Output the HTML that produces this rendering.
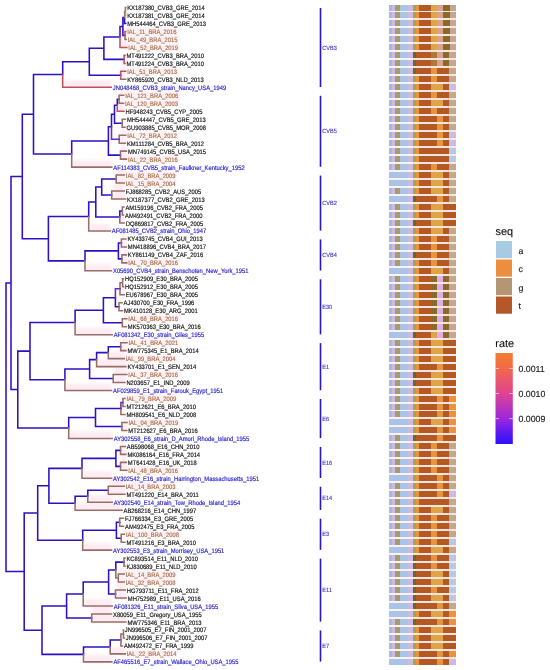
<!DOCTYPE html>
<html><head><meta charset="utf-8"><style>
html,body{margin:0;padding:0;background:#fff;}
body{width:550px;height:670px;overflow:hidden;position:relative;}
svg{position:absolute;left:0;top:0;will-change:transform;filter:blur(0.45px);}
text{-webkit-font-smoothing:antialiased;text-rendering:geometricPrecision;}
text{font-family:"Liberation Sans",sans-serif;}
</style></head><body>
<svg width="550" height="670" viewBox="0 0 550 670">
<g><defs><filter id="hz" x="-20%" y="-50%" width="140%" height="200%"><feGaussianBlur stdDeviation="1.5"/></filter></defs><g fill="#fdebf2" filter="url(#hz)"><rect x="121" y="40.4" width="5.8" height="7.5"/><rect x="121.7" y="64.34" width="4" height="7.5"/><rect x="121.7" y="72.32" width="4" height="7.5"/><rect x="63.7" y="80.3" width="47.6" height="7.5"/><rect x="120.1" y="88.28" width="3.6" height="7.5"/><rect x="120.1" y="96.26" width="3.4" height="7.5"/><rect x="118.3" y="104.24" width="5.7" height="7.5"/><rect x="120.2" y="128.18" width="5.5" height="7.5"/><rect x="120.2" y="136.16" width="5.2" height="7.5"/><rect x="121.5" y="144.14" width="4.9" height="7.5"/><rect x="121.5" y="152.12" width="4.9" height="7.5"/><rect x="72.7" y="160.1" width="39.1" height="7.5"/><rect x="117.2" y="168.08" width="7.1" height="7.5"/><rect x="117.2" y="176.06" width="7" height="7.5"/><rect x="112.7" y="184.04" width="11.5" height="7.5"/><rect x="112.7" y="192.02" width="12.9" height="7.5"/><rect x="120.8" y="215.96" width="3.4" height="7.5"/><rect x="89.7" y="223.94" width="20.6" height="7.5"/><rect x="122.4" y="231.92" width="3.5" height="7.5"/><rect x="122.4" y="239.9" width="3.9" height="7.5"/><rect x="122.9" y="247.88" width="3.4" height="7.5"/><rect x="122.9" y="255.86" width="3.9" height="7.5"/><rect x="86" y="263.84" width="25.5" height="7.5"/><rect x="121" y="287.78" width="3.2" height="7.5"/><rect x="123.3" y="311.72" width="3.5" height="7.5"/><rect x="76.1" y="327.68" width="36.1" height="7.5"/><rect x="121.7" y="335.66" width="5.3" height="7.5"/><rect x="121.7" y="343.64" width="4.2" height="7.5"/><rect x="109.3" y="351.62" width="14.9" height="7.5"/><rect x="97.6" y="359.6" width="28.3" height="7.5"/><rect x="114.2" y="367.58" width="12.6" height="7.5"/><rect x="114.2" y="375.56" width="10.7" height="7.5"/><rect x="65.9" y="383.54" width="45.6" height="7.5"/><rect x="122.9" y="415.46" width="4.1" height="7.5"/><rect x="122.9" y="423.44" width="3.9" height="7.5"/><rect x="69.7" y="431.42" width="42.5" height="7.5"/><rect x="121.5" y="439.4" width="3.8" height="7.5"/><rect x="121.5" y="447.38" width="4.4" height="7.5"/><rect x="121.5" y="455.36" width="4.8" height="7.5"/><rect x="121.5" y="463.34" width="5.3" height="7.5"/><rect x="83" y="471.32" width="28.5" height="7.5"/><rect x="109.3" y="479.3" width="14.9" height="7.5"/><rect x="109.3" y="487.28" width="15.6" height="7.5"/><rect x="88.8" y="495.26" width="23.4" height="7.5"/><rect x="76.1" y="503.24" width="46" height="7.5"/><rect x="83.7" y="543.14" width="27.8" height="7.5"/><rect x="119.3" y="567.08" width="4.9" height="7.5"/><rect x="119.3" y="575.06" width="4.9" height="7.5"/><rect x="116.5" y="583.04" width="8.8" height="7.5"/><rect x="116.5" y="591.02" width="9.8" height="7.5"/><rect x="84.2" y="599" width="28" height="7.5"/><rect x="92.7" y="606.98" width="18.8" height="7.5"/><rect x="92.7" y="614.96" width="33.2" height="7.5"/><rect x="111.2" y="646.88" width="14" height="7.5"/><rect x="84.5" y="654.86" width="27.4" height="7.5"/></g><g fill="#fdf0f5" filter="url(#hz)"><rect x="124.9" y="27.44" width="53.5" height="7"/><rect x="125.4" y="35.42" width="53.5" height="7"/><rect x="126" y="43.4" width="53.5" height="7"/><rect x="124.9" y="67.34" width="53.5" height="7"/><rect x="122.9" y="91.28" width="56.8" height="7"/><rect x="122.7" y="99.26" width="56.8" height="7"/><rect x="124.9" y="131.18" width="53.5" height="7"/><rect x="125.6" y="155.12" width="53.5" height="7"/><rect x="123.5" y="171.08" width="53.5" height="7"/><rect x="123.4" y="179.06" width="53.5" height="7"/><rect x="126" y="258.86" width="53.5" height="7"/><rect x="126" y="314.72" width="53.5" height="7"/><rect x="126.2" y="338.66" width="53.5" height="7"/><rect x="123.4" y="354.62" width="53.5" height="7"/><rect x="126" y="370.58" width="53.5" height="7"/><rect x="124.1" y="394.52" width="53.5" height="7"/><rect x="126.2" y="418.46" width="53.5" height="7"/><rect x="126" y="466.34" width="53.5" height="7"/><rect x="123.4" y="482.3" width="53.5" height="7"/><rect x="123.6" y="530.18" width="56.8" height="7"/><rect x="123.4" y="570.08" width="53.5" height="7"/><rect x="123.4" y="578.06" width="53.5" height="7"/><rect x="124.4" y="649.88" width="53.5" height="7"/></g><path d="M6 427.3L6 283M6 283L11 283M11 283L11 176.47M11 176.47L22.3 176.47M22.3 176.47L22.3 114.26M22.3 114.26L33.5 114.26M33.5 114.26L33.5 74.52M33.5 74.52L62.7 74.52M62.7 74.52L62.7 61.74M62.7 61.74L89.3 61.74M89.3 61.74L89.3 48.15M89.3 48.15L103.9 48.15M103.9 48.15L103.9 36.93M103.9 36.93L120 36.93M120 36.93L120 26.45M120 26.45L122.9 26.45M122.9 26.45L122.9 17.48M122.9 17.48L124.6 17.48M124.6 17.48L124.6 23.46M124.6 23.46L125.7 23.46M122.9 26.45L122.9 35.43M122.9 35.43L125 35.43M103.9 48.15L103.9 59.37M103.9 59.37L124.1 59.37M89.3 61.74L89.3 75.33M89.3 75.33L120.7 75.33M33.5 114.26L33.5 154.01M33.5 154.01L71.7 154.01M71.7 154.01L71.7 140.92M71.7 140.92L108.4 140.92M108.4 140.92L108.4 126.7M108.4 126.7L111.5 126.7M111.5 126.7L111.5 114.23M111.5 114.23L114.5 114.23M114.5 114.23L114.5 105.26M114.5 105.26L117.3 105.26M117.3 105.26L117.3 99.27M117.3 99.27L119.1 99.27M114.5 114.23L114.5 123.21M114.5 123.21L122.2 123.21M108.4 140.92L108.4 155.13M108.4 155.13L120.5 155.13M22.3 176.47L22.3 238.67M22.3 238.67L48.4 238.67M48.4 238.67L48.4 216.48M48.4 216.48L88.7 216.48M88.7 216.48L88.7 202.01M88.7 202.01L95.8 202.01M95.8 202.01L95.8 187.05M95.8 187.05L101.7 187.05M101.7 187.05L101.7 179.07M101.7 179.07L116.2 179.07M101.7 187.05L101.7 195.03M101.7 195.03L111.7 195.03M95.8 202.01L95.8 216.98M95.8 216.98L119.8 216.98M119.8 216.98L119.8 210.99M119.8 210.99L122.3 210.99M48.4 238.67L48.4 260.87M48.4 260.87L85 260.87M85 260.87L85 250.89M85 250.89L118.4 250.89M118.4 250.89L118.4 242.91M118.4 242.91L121.4 242.91M118.4 250.89L118.4 258.87M118.4 258.87L121.9 258.87M11 283L11 389.54M11 389.54L17.8 389.54M17.8 389.54L17.8 351.14M17.8 351.14L30 351.14M30 351.14L30 322.46M30 322.46L75.1 322.46M75.1 322.46L75.1 310.24M75.1 310.24L103.4 310.24M103.4 310.24L103.4 297.77M103.4 297.77L115.4 297.77M115.4 297.77L115.4 306.75M115.4 306.75L119 306.75M103.4 310.24L103.4 322.71M103.4 322.71L122.3 322.71M30 351.14L30 379.82M30 379.82L64.9 379.82M64.9 379.82L64.9 369.09M64.9 369.09L89.6 369.09M89.6 369.09L89.6 359.62M89.6 359.62L96.6 359.62M96.6 359.62L96.6 352.63M96.6 352.63L108.3 352.63M108.3 352.63L108.3 346.65M108.3 346.65L120.7 346.65M89.6 369.09L89.6 378.57M89.6 378.57L113.2 378.57M17.8 389.54L17.8 427.95M17.8 427.95L68.7 427.95M68.7 427.95L68.7 417.47M68.7 417.47L95.5 417.47M95.5 417.47L95.5 408.5M95.5 408.5L120.9 408.5M95.5 417.47L95.5 426.45M95.5 426.45L121.9 426.45M6 427.3L6 571.59M6 571.59L24.2 571.59M24.2 571.59L24.2 512.98M24.2 512.98L37.7 512.98M37.7 512.98L37.7 485.8M37.7 485.8L48.9 485.8M48.9 485.8L48.9 468.35M48.9 468.35L82 468.35M82 468.35L82 458.37M82 458.37L115.9 458.37M115.9 458.37L115.9 450.39M115.9 450.39L120.5 450.39M115.9 458.37L115.9 466.35M115.9 466.35L120.5 466.35M48.9 485.8L48.9 503.26M48.9 503.26L75.1 503.26M75.1 503.26L75.1 496.28M75.1 496.28L87.8 496.28M87.8 496.28L87.8 490.29M87.8 490.29L108.3 490.29M37.7 512.98L37.7 540.16M37.7 540.16L82.7 540.16M82.7 540.16L82.7 530.19M82.7 530.19L116.4 530.19M116.4 530.19L116.4 522.21M116.4 522.21L119.7 522.21M116.4 530.19L116.4 538.17M116.4 538.17L121.2 538.17M24.2 571.59L24.2 630.19M24.2 630.19L42 630.19M42 630.19L42 606M42 606L66.6 606M66.6 606L66.6 594.03M66.6 594.03L83.2 594.03M83.2 594.03L83.2 582.06M83.2 582.06L108.6 582.06M108.6 582.06L108.6 570.09M108.6 570.09L115.8 570.09M115.8 570.09L115.8 562.11M115.8 562.11L124 562.11M108.6 582.06L108.6 594.03M108.6 594.03L115.5 594.03M66.6 606L66.6 617.97M66.6 617.97L91.7 617.97M42 630.19L42 654.38M42 654.38L83.5 654.38M83.5 654.38L83.5 646.9M83.5 646.9L110.2 646.9M110.2 646.9L110.2 639.92M110.2 639.92L120.9 639.92" stroke="#2c12c4" stroke-width="1.55" fill="none" stroke-linecap="square"/><path d="M124.6 17.48L124.6 11.49M124.6 11.49L125.4 11.49M125.4 11.49L125.4 7.5M125.4 7.5L125.7 7.5M125 35.43L125 39.42M125 39.42L126.2 39.42M120.7 75.33L120.7 79.32M120.7 79.32L125.7 79.32M119.1 99.27L119.1 95.28M119.1 95.28L123.7 95.28M119.1 99.27L119.1 103.26M119.1 103.26L123.5 103.26M122.2 123.21L122.2 119.22M122.2 119.22L125.4 119.22M122.2 123.21L122.2 127.2M122.2 127.2L125 127.2M119.2 139.17L119.2 135.18M119.2 135.18L125.7 135.18M119.2 139.17L119.2 143.16M119.2 143.16L125.4 143.16M120.5 155.13L120.5 151.14M120.5 151.14L126.4 151.14M120.5 155.13L120.5 159.12M120.5 159.12L126.4 159.12M71.7 154.01L71.7 167.1M71.7 167.1L111.8 167.1M116.2 179.07L116.2 175.08M116.2 175.08L124.3 175.08M116.2 179.07L116.2 183.06M116.2 183.06L124.2 183.06M111.7 195.03L111.7 191.04M111.7 191.04L124.2 191.04M111.7 195.03L111.7 199.02M111.7 199.02L125.6 199.02M122.3 210.99L122.3 207M122.3 207L123.9 207M122.3 210.99L122.3 214.98M122.3 214.98L123.5 214.98M119.8 216.98L119.8 222.96M119.8 222.96L124.2 222.96M88.7 216.48L88.7 230.94M88.7 230.94L110.3 230.94M121.4 242.91L121.4 238.92M121.4 238.92L125.9 238.92M121.4 242.91L121.4 246.9M121.4 246.9L126.3 246.9M121.9 258.87L121.9 254.88M121.9 254.88L126.3 254.88M121.9 258.87L121.9 262.86M121.9 262.86L126.8 262.86M85 260.87L85 270.84M85 270.84L111.5 270.84M120 288.8L120 282.81M120 282.81L122.6 282.81M122.6 282.81L122.6 278.82M122.6 278.82L123.5 278.82M122.6 282.81L122.6 286.8M122.6 286.8L123.5 286.8M120 288.8L120 294.78M120 294.78L124.2 294.78M119 306.75L119 302.76M119 302.76L122.1 302.76M119 306.75L119 310.74M119 310.74L122.5 310.74M122.3 322.71L122.3 318.72M122.3 318.72L126.8 318.72M122.3 322.71L122.3 326.7M122.3 326.7L126.3 326.7M75.1 322.46L75.1 334.68M75.1 334.68L112.2 334.68M120.7 346.65L120.7 342.66M120.7 342.66L127 342.66M120.7 346.65L120.7 350.64M120.7 350.64L125.9 350.64M108.3 352.63L108.3 358.62M108.3 358.62L124.2 358.62M96.6 359.62L96.6 366.6M96.6 366.6L125.9 366.6M113.2 378.57L113.2 374.58M113.2 374.58L126.8 374.58M113.2 378.57L113.2 382.56M113.2 382.56L124.9 382.56M64.9 379.82L64.9 390.54M64.9 390.54L111.5 390.54M122.9 402.51L122.9 398.52M122.9 398.52L124.9 398.52M122.9 402.51L122.9 406.5M122.9 406.5L124.9 406.5M120.9 408.5L120.9 414.48M120.9 414.48L124.9 414.48M121.9 426.45L121.9 422.46M121.9 422.46L127 422.46M121.9 426.45L121.9 430.44M121.9 430.44L126.8 430.44M68.7 427.95L68.7 438.42M68.7 438.42L112.2 438.42M120.5 450.39L120.5 446.4M120.5 446.4L125.3 446.4M120.5 450.39L120.5 454.38M120.5 454.38L125.9 454.38M120.5 466.35L120.5 462.36M120.5 462.36L126.3 462.36M120.5 466.35L120.5 470.34M120.5 470.34L126.8 470.34M82 468.35L82 478.32M82 478.32L111.5 478.32M108.3 490.29L108.3 486.3M108.3 486.3L124.2 486.3M108.3 490.29L108.3 494.28M108.3 494.28L124.9 494.28M87.8 496.28L87.8 502.26M87.8 502.26L112.2 502.26M75.1 503.26L75.1 510.24M75.1 510.24L122.1 510.24M119.7 522.21L119.7 518.22M119.7 518.22L123.5 518.22M119.7 522.21L119.7 526.2M119.7 526.2L123.5 526.2M121.2 538.17L121.2 534.18M121.2 534.18L124.4 534.18M121.2 538.17L121.2 542.16M121.2 542.16L124.9 542.16M82.7 540.16L82.7 550.14M82.7 550.14L111.5 550.14M124 562.11L124 558.12M124 558.12L124.9 558.12M124 562.11L124 566.1M124 566.1L124.9 566.1M115.8 570.09L115.8 578.07M115.8 578.07L118.3 578.07M118.3 578.07L118.3 574.08M118.3 574.08L124.2 574.08M118.3 578.07L118.3 582.06M118.3 582.06L124.2 582.06M115.5 594.03L115.5 590.04M115.5 590.04L125.3 590.04M115.5 594.03L115.5 598.02M115.5 598.02L126.3 598.02M83.2 594.03L83.2 606M83.2 606L112.2 606M91.7 617.97L91.7 613.98M91.7 613.98L111.5 613.98M91.7 617.97L91.7 621.96M91.7 621.96L125.9 621.96M120.9 639.92L120.9 633.93M120.9 633.93L123.5 633.93M123.5 633.93L123.5 629.94M123.5 629.94L123.3 629.94M123.5 633.93L123.5 637.92M123.5 637.92L124.3 637.92M120.9 639.92L120.9 645.9M120.9 645.9L122.4 645.9M110.2 646.9L110.2 653.88M110.2 653.88L125.2 653.88M83.5 654.38L83.5 661.86M83.5 661.86L111.9 661.86" stroke="#9a6e68" stroke-width="1.55" fill="none" stroke-linecap="square"/><path d="M125.4 11.49L125.4 15.48M125.4 15.48L125.7 15.48" stroke="#b0a050" stroke-width="1.55" fill="none" stroke-linecap="square"/><path d="M125 35.43L125 31.44M125 31.44L125.7 31.44M120 36.93L120 47.4M120 47.4L126.8 47.4M124.1 59.37L124.1 55.38M124.1 55.38L125 55.38M124.1 59.37L124.1 63.36M124.1 63.36L125 63.36M120.7 75.33L120.7 71.34M120.7 71.34L125.7 71.34M62.7 74.52L62.7 87.3M62.7 87.3L111.3 87.3M117.3 105.26L117.3 111.24M117.3 111.24L124 111.24" stroke="#c0505e" stroke-width="1.55" fill="none" stroke-linecap="square"/><path d="M111.5 126.7L111.5 139.17M111.5 139.17L119.2 139.17M115.4 297.77L115.4 288.8M115.4 288.8L120 288.8M120.9 408.5L120.9 402.51M120.9 402.51L122.9 402.51" stroke="#6a2cc4" stroke-width="1.55" fill="none" stroke-linecap="square"/></g>
<g shape-rendering="crispEdges"><rect x="388.6" y="4.5" width="24.4" height="660.36" fill="#f7f3fa"/><rect x="413" y="4.5" width="42.8" height="660.36" fill="#fde3dd"/><rect x="388.6" y="4.5" width="3.65" height="6" fill="#aab8e0"/><rect x="392.2" y="4.5" width="2.35" height="6" fill="#cdb8e6"/><rect x="394.5" y="4.5" width="5.65" height="6" fill="#a49c6c"/><rect x="400.1" y="4.5" width="7.55" height="6" fill="#aac4e8"/><rect x="407.6" y="4.5" width="5.45" height="6" fill="#cdb8e6"/><rect x="413" y="4.5" width="3.05" height="6" fill="#a0a84e"/><rect x="416" y="4.5" width="2.55" height="6" fill="#e8943c"/><rect x="418.5" y="4.5" width="12.55" height="6" fill="#b35a24"/><rect x="431" y="4.5" width="6.05" height="6" fill="#dea446"/><rect x="437" y="4.5" width="6.05" height="6" fill="#d6a48c"/><rect x="443" y="4.5" width="7.05" height="6" fill="#8a6a2a"/><rect x="450" y="4.5" width="5.85" height="6" fill="#c2a88c"/><rect x="388.6" y="12.48" width="3.65" height="6" fill="#aab8e0"/><rect x="392.2" y="12.48" width="2.35" height="6" fill="#cdb8e6"/><rect x="394.5" y="12.48" width="5.65" height="6" fill="#a49c6c"/><rect x="400.1" y="12.48" width="7.55" height="6" fill="#aac4e8"/><rect x="407.6" y="12.48" width="5.45" height="6" fill="#cdb8e6"/><rect x="413" y="12.48" width="3.05" height="6" fill="#a0a84e"/><rect x="416" y="12.48" width="2.55" height="6" fill="#e8943c"/><rect x="418.5" y="12.48" width="12.55" height="6" fill="#b35a24"/><rect x="431" y="12.48" width="6.05" height="6" fill="#dea446"/><rect x="437" y="12.48" width="6.05" height="6" fill="#d6a48c"/><rect x="443" y="12.48" width="7.05" height="6" fill="#8a6a2a"/><rect x="450" y="12.48" width="5.85" height="6" fill="#c2a88c"/><rect x="388.6" y="20.46" width="3.65" height="6" fill="#aab8e0"/><rect x="392.2" y="20.46" width="2.35" height="6" fill="#cdb8e6"/><rect x="394.5" y="20.46" width="5.65" height="6" fill="#a49c6c"/><rect x="400.1" y="20.46" width="7.55" height="6" fill="#aac4e8"/><rect x="407.6" y="20.46" width="5.45" height="6" fill="#cdb8e6"/><rect x="413" y="20.46" width="3.05" height="6" fill="#a0a84e"/><rect x="416" y="20.46" width="2.55" height="6" fill="#e8943c"/><rect x="418.5" y="20.46" width="12.55" height="6" fill="#b35a24"/><rect x="431" y="20.46" width="6.05" height="6" fill="#dea446"/><rect x="437" y="20.46" width="6.05" height="6" fill="#d6a48c"/><rect x="443" y="20.46" width="7.05" height="6" fill="#8a6a2a"/><rect x="450" y="20.46" width="5.85" height="6" fill="#c2a88c"/><rect x="388.6" y="28.44" width="3.65" height="6" fill="#aab8e0"/><rect x="392.2" y="28.44" width="2.35" height="6" fill="#cdb8e6"/><rect x="394.5" y="28.44" width="5.65" height="6" fill="#a49c6c"/><rect x="400.1" y="28.44" width="7.55" height="6" fill="#aac4e8"/><rect x="407.6" y="28.44" width="5.45" height="6" fill="#cdb8e6"/><rect x="413" y="28.44" width="3.05" height="6" fill="#a0a84e"/><rect x="416" y="28.44" width="2.55" height="6" fill="#e8943c"/><rect x="418.5" y="28.44" width="12.55" height="6" fill="#b35a24"/><rect x="431" y="28.44" width="6.05" height="6" fill="#dea446"/><rect x="437" y="28.44" width="6.05" height="6" fill="#d6a48c"/><rect x="443" y="28.44" width="7.05" height="6" fill="#8a6a2a"/><rect x="450" y="28.44" width="5.85" height="6" fill="#c2a88c"/><rect x="388.6" y="36.42" width="3.65" height="6" fill="#aab8e0"/><rect x="392.2" y="36.42" width="2.35" height="6" fill="#cdb8e6"/><rect x="394.5" y="36.42" width="5.65" height="6" fill="#a49c6c"/><rect x="400.1" y="36.42" width="7.55" height="6" fill="#aac4e8"/><rect x="407.6" y="36.42" width="5.45" height="6" fill="#cdb8e6"/><rect x="413" y="36.42" width="3.05" height="6" fill="#a0a84e"/><rect x="416" y="36.42" width="2.55" height="6" fill="#e8943c"/><rect x="418.5" y="36.42" width="12.55" height="6" fill="#b35a24"/><rect x="431" y="36.42" width="6.05" height="6" fill="#dea446"/><rect x="437" y="36.42" width="6.05" height="6" fill="#d6a48c"/><rect x="443" y="36.42" width="7.05" height="6" fill="#8a6a2a"/><rect x="450" y="36.42" width="5.85" height="6" fill="#c2a88c"/><rect x="388.6" y="44.4" width="3.65" height="6" fill="#aab8e0"/><rect x="392.2" y="44.4" width="2.35" height="6" fill="#cdb8e6"/><rect x="394.5" y="44.4" width="5.65" height="6" fill="#a49c6c"/><rect x="400.1" y="44.4" width="7.55" height="6" fill="#aac4e8"/><rect x="407.6" y="44.4" width="5.45" height="6" fill="#cdb8e6"/><rect x="413" y="44.4" width="3.05" height="6" fill="#a0a84e"/><rect x="416" y="44.4" width="2.55" height="6" fill="#e8943c"/><rect x="418.5" y="44.4" width="12.55" height="6" fill="#b35a24"/><rect x="431" y="44.4" width="6.05" height="6" fill="#dea446"/><rect x="437" y="44.4" width="6.05" height="6" fill="#d6a48c"/><rect x="443" y="44.4" width="7.05" height="6" fill="#8a6a2a"/><rect x="450" y="44.4" width="5.85" height="6" fill="#c2a88c"/><rect x="388.6" y="52.38" width="3.65" height="6" fill="#aab8e0"/><rect x="392.2" y="52.38" width="2.35" height="6" fill="#cdb8e6"/><rect x="394.5" y="52.38" width="5.65" height="6" fill="#a49c6c"/><rect x="400.1" y="52.38" width="7.55" height="6" fill="#aac4e8"/><rect x="407.6" y="52.38" width="5.45" height="6" fill="#cdb8e6"/><rect x="413" y="52.38" width="3.05" height="6" fill="#686a28"/><rect x="416" y="52.38" width="2.55" height="6" fill="#b35a24"/><rect x="418.5" y="52.38" width="12.55" height="6" fill="#b35a24"/><rect x="431" y="52.38" width="6.05" height="6" fill="#b07838"/><rect x="437" y="52.38" width="6.05" height="6" fill="#d6a48c"/><rect x="443" y="52.38" width="6.05" height="6" fill="#8a6a2a"/><rect x="449" y="52.38" width="6.85" height="6" fill="#c2a88c"/><rect x="388.6" y="60.36" width="3.65" height="6" fill="#aab8e0"/><rect x="392.2" y="60.36" width="2.35" height="6" fill="#cdb8e6"/><rect x="394.5" y="60.36" width="5.65" height="6" fill="#a49c6c"/><rect x="400.1" y="60.36" width="7.55" height="6" fill="#aac4e8"/><rect x="407.6" y="60.36" width="5.45" height="6" fill="#cdb8e6"/><rect x="413" y="60.36" width="3.05" height="6" fill="#686a28"/><rect x="416" y="60.36" width="2.55" height="6" fill="#b35a24"/><rect x="418.5" y="60.36" width="12.55" height="6" fill="#b35a24"/><rect x="431" y="60.36" width="6.05" height="6" fill="#b07838"/><rect x="437" y="60.36" width="6.05" height="6" fill="#d6a48c"/><rect x="443" y="60.36" width="6.05" height="6" fill="#8a6a2a"/><rect x="449" y="60.36" width="6.85" height="6" fill="#c2a88c"/><rect x="388.6" y="68.34" width="3.65" height="6" fill="#aab8e0"/><rect x="392.2" y="68.34" width="2.35" height="6" fill="#cdb8e6"/><rect x="394.5" y="68.34" width="5.65" height="6" fill="#a49c6c"/><rect x="400.1" y="68.34" width="7.55" height="6" fill="#aac4e8"/><rect x="407.6" y="68.34" width="5.45" height="6" fill="#cdb8e6"/><rect x="413" y="68.34" width="3.05" height="6" fill="#686a28"/><rect x="416" y="68.34" width="2.55" height="6" fill="#b35a24"/><rect x="418.5" y="68.34" width="12.55" height="6" fill="#b35a24"/><rect x="431" y="68.34" width="6.05" height="6" fill="#e8943c"/><rect x="437" y="68.34" width="6.05" height="6" fill="#b35a24"/><rect x="443" y="68.34" width="6.05" height="6" fill="#b35a24"/><rect x="449" y="68.34" width="6.85" height="6" fill="#c2a88c"/><rect x="388.6" y="76.32" width="3.65" height="6" fill="#aab8e0"/><rect x="392.2" y="76.32" width="2.35" height="6" fill="#cdb8e6"/><rect x="394.5" y="76.32" width="5.65" height="6" fill="#a49c6c"/><rect x="400.1" y="76.32" width="7.55" height="6" fill="#aac4e8"/><rect x="407.6" y="76.32" width="5.45" height="6" fill="#cdb8e6"/><rect x="413" y="76.32" width="3.05" height="6" fill="#a0a84e"/><rect x="416" y="76.32" width="2.55" height="6" fill="#e8943c"/><rect x="418.5" y="76.32" width="12.55" height="6" fill="#b35a24"/><rect x="431" y="76.32" width="6.05" height="6" fill="#e8943c"/><rect x="437" y="76.32" width="6.05" height="6" fill="#b35a24"/><rect x="443" y="76.32" width="6.05" height="6" fill="#b35a24"/><rect x="449" y="76.32" width="6.85" height="6" fill="#c2a88c"/><rect x="388.6" y="84.3" width="3.65" height="6" fill="#aab8e0"/><rect x="392.2" y="84.3" width="2.35" height="6" fill="#cdb8e6"/><rect x="394.5" y="84.3" width="5.65" height="6" fill="#a49c6c"/><rect x="400.1" y="84.3" width="7.55" height="6" fill="#aac4e8"/><rect x="407.6" y="84.3" width="5.45" height="6" fill="#cdb8e6"/><rect x="413" y="84.3" width="3.05" height="6" fill="#a0a84e"/><rect x="416" y="84.3" width="2.55" height="6" fill="#e8943c"/><rect x="418.5" y="84.3" width="12.55" height="6" fill="#b35a24"/><rect x="431" y="84.3" width="6.05" height="6" fill="#dea446"/><rect x="437" y="84.3" width="6.05" height="6" fill="#dea446"/><rect x="443" y="84.3" width="6.05" height="6" fill="#b35a24"/><rect x="449" y="84.3" width="6.85" height="6" fill="#cabbe8"/><rect x="388.6" y="92.28" width="3.65" height="6" fill="#aab8e0"/><rect x="392.2" y="92.28" width="2.35" height="6" fill="#cdb8e6"/><rect x="394.5" y="92.28" width="5.65" height="6" fill="#a49c6c"/><rect x="400.1" y="92.28" width="7.55" height="6" fill="#aac4e8"/><rect x="407.6" y="92.28" width="5.45" height="6" fill="#cdb8e6"/><rect x="413" y="92.28" width="3.05" height="6" fill="#a0a84e"/><rect x="416" y="92.28" width="2.55" height="6" fill="#e8943c"/><rect x="418.5" y="92.28" width="12.55" height="6" fill="#b35a24"/><rect x="431" y="92.28" width="6.05" height="6" fill="#e8943c"/><rect x="437" y="92.28" width="6.05" height="6" fill="#b35a24"/><rect x="443" y="92.28" width="6.05" height="6" fill="#b35a24"/><rect x="449" y="92.28" width="6.85" height="6" fill="#c2a88c"/><rect x="388.6" y="100.26" width="3.65" height="6" fill="#aab8e0"/><rect x="392.2" y="100.26" width="2.35" height="6" fill="#cdb8e6"/><rect x="394.5" y="100.26" width="5.65" height="6" fill="#a49c6c"/><rect x="400.1" y="100.26" width="7.55" height="6" fill="#aac4e8"/><rect x="407.6" y="100.26" width="5.45" height="6" fill="#cdb8e6"/><rect x="413" y="100.26" width="3.05" height="6" fill="#a0a84e"/><rect x="416" y="100.26" width="2.55" height="6" fill="#e8943c"/><rect x="418.5" y="100.26" width="12.55" height="6" fill="#b35a24"/><rect x="431" y="100.26" width="6.05" height="6" fill="#dea446"/><rect x="437" y="100.26" width="6.05" height="6" fill="#dea446"/><rect x="443" y="100.26" width="6.05" height="6" fill="#b35a24"/><rect x="449" y="100.26" width="6.85" height="6" fill="#c2a88c"/><rect x="388.6" y="108.24" width="3.65" height="6" fill="#aab8e0"/><rect x="392.2" y="108.24" width="2.35" height="6" fill="#cdb8e6"/><rect x="394.5" y="108.24" width="5.65" height="6" fill="#a49c6c"/><rect x="400.1" y="108.24" width="7.55" height="6" fill="#aac4e8"/><rect x="407.6" y="108.24" width="5.45" height="6" fill="#cdb8e6"/><rect x="413" y="108.24" width="3.05" height="6" fill="#a0a84e"/><rect x="416" y="108.24" width="2.55" height="6" fill="#e8943c"/><rect x="418.5" y="108.24" width="12.55" height="6" fill="#b35a24"/><rect x="431" y="108.24" width="6.05" height="6" fill="#e8943c"/><rect x="437" y="108.24" width="6.05" height="6" fill="#b35a24"/><rect x="443" y="108.24" width="6.05" height="6" fill="#b35a24"/><rect x="449" y="108.24" width="6.85" height="6" fill="#c2a88c"/><rect x="388.6" y="116.22" width="3.65" height="6" fill="#aab8e0"/><rect x="392.2" y="116.22" width="2.35" height="6" fill="#cdb8e6"/><rect x="394.5" y="116.22" width="5.65" height="6" fill="#a49c6c"/><rect x="400.1" y="116.22" width="7.55" height="6" fill="#aac4e8"/><rect x="407.6" y="116.22" width="5.45" height="6" fill="#cdb8e6"/><rect x="413" y="116.22" width="3.05" height="6" fill="#a0a84e"/><rect x="416" y="116.22" width="2.55" height="6" fill="#e8943c"/><rect x="418.5" y="116.22" width="12.55" height="6" fill="#b35a24"/><rect x="431" y="116.22" width="6.05" height="6" fill="#b35a24"/><rect x="437" y="116.22" width="6.05" height="6" fill="#e8943c"/><rect x="443" y="116.22" width="6.05" height="6" fill="#b35a24"/><rect x="449" y="116.22" width="6.85" height="6" fill="#c2a88c"/><rect x="388.6" y="124.2" width="3.65" height="6" fill="#aab8e0"/><rect x="392.2" y="124.2" width="2.35" height="6" fill="#cdb8e6"/><rect x="394.5" y="124.2" width="5.65" height="6" fill="#a49c6c"/><rect x="400.1" y="124.2" width="7.55" height="6" fill="#aac4e8"/><rect x="407.6" y="124.2" width="5.45" height="6" fill="#cdb8e6"/><rect x="413" y="124.2" width="3.05" height="6" fill="#a0a84e"/><rect x="416" y="124.2" width="2.55" height="6" fill="#e8943c"/><rect x="418.5" y="124.2" width="12.55" height="6" fill="#b35a24"/><rect x="431" y="124.2" width="6.05" height="6" fill="#b35a24"/><rect x="437" y="124.2" width="6.05" height="6" fill="#e8943c"/><rect x="443" y="124.2" width="6.05" height="6" fill="#b35a24"/><rect x="449" y="124.2" width="6.85" height="6" fill="#c2a88c"/><rect x="388.6" y="132.18" width="3.65" height="6" fill="#aab8e0"/><rect x="392.2" y="132.18" width="2.35" height="6" fill="#cdb8e6"/><rect x="394.5" y="132.18" width="5.65" height="6" fill="#a49c6c"/><rect x="400.1" y="132.18" width="7.55" height="6" fill="#aac4e8"/><rect x="407.6" y="132.18" width="5.45" height="6" fill="#cdb8e6"/><rect x="413" y="132.18" width="3.05" height="6" fill="#a0a84e"/><rect x="416" y="132.18" width="2.55" height="6" fill="#e8943c"/><rect x="418.5" y="132.18" width="12.55" height="6" fill="#b35a24"/><rect x="431" y="132.18" width="6.05" height="6" fill="#b35a24"/><rect x="437" y="132.18" width="6.05" height="6" fill="#e8943c"/><rect x="443" y="132.18" width="6.05" height="6" fill="#b35a24"/><rect x="449" y="132.18" width="6.85" height="6" fill="#cabbe8"/><rect x="388.6" y="140.16" width="3.65" height="6" fill="#aab8e0"/><rect x="392.2" y="140.16" width="2.35" height="6" fill="#cdb8e6"/><rect x="394.5" y="140.16" width="5.65" height="6" fill="#a49c6c"/><rect x="400.1" y="140.16" width="7.55" height="6" fill="#aac4e8"/><rect x="407.6" y="140.16" width="5.45" height="6" fill="#cdb8e6"/><rect x="413" y="140.16" width="3.05" height="6" fill="#a0a84e"/><rect x="416" y="140.16" width="2.55" height="6" fill="#e8943c"/><rect x="418.5" y="140.16" width="12.55" height="6" fill="#b35a24"/><rect x="431" y="140.16" width="6.05" height="6" fill="#b35a24"/><rect x="437" y="140.16" width="6.05" height="6" fill="#e8943c"/><rect x="443" y="140.16" width="6.05" height="6" fill="#b35a24"/><rect x="449" y="140.16" width="6.85" height="6" fill="#cabbe8"/><rect x="388.6" y="148.14" width="3.65" height="6" fill="#aab8e0"/><rect x="392.2" y="148.14" width="2.35" height="6" fill="#cdb8e6"/><rect x="394.5" y="148.14" width="5.65" height="6" fill="#a49c6c"/><rect x="400.1" y="148.14" width="7.55" height="6" fill="#aac4e8"/><rect x="407.6" y="148.14" width="5.45" height="6" fill="#cdb8e6"/><rect x="413" y="148.14" width="3.05" height="6" fill="#a0a84e"/><rect x="416" y="148.14" width="2.55" height="6" fill="#e8943c"/><rect x="418.5" y="148.14" width="12.55" height="6" fill="#b35a24"/><rect x="431" y="148.14" width="6.05" height="6" fill="#b35a24"/><rect x="437" y="148.14" width="6.05" height="6" fill="#b35a24"/><rect x="443" y="148.14" width="6.05" height="6" fill="#b35a24"/><rect x="449" y="148.14" width="6.85" height="6" fill="#b2c8ec"/><rect x="388.6" y="156.12" width="3.65" height="6" fill="#aab8e0"/><rect x="392.2" y="156.12" width="2.35" height="6" fill="#cdb8e6"/><rect x="394.5" y="156.12" width="5.65" height="6" fill="#a49c6c"/><rect x="400.1" y="156.12" width="7.55" height="6" fill="#aac4e8"/><rect x="407.6" y="156.12" width="5.45" height="6" fill="#cdb8e6"/><rect x="413" y="156.12" width="3.05" height="6" fill="#a0a84e"/><rect x="416" y="156.12" width="2.55" height="6" fill="#e8943c"/><rect x="418.5" y="156.12" width="12.55" height="6" fill="#b35a24"/><rect x="431" y="156.12" width="6.05" height="6" fill="#b35a24"/><rect x="437" y="156.12" width="6.05" height="6" fill="#b35a24"/><rect x="443" y="156.12" width="6.05" height="6" fill="#b35a24"/><rect x="449" y="156.12" width="6.85" height="6" fill="#b2c8ec"/><rect x="388.6" y="164.1" width="3.65" height="6" fill="#aab8e0"/><rect x="392.2" y="164.1" width="2.35" height="6" fill="#cdb8e6"/><rect x="394.5" y="164.1" width="5.65" height="6" fill="#a49c6c"/><rect x="400.1" y="164.1" width="7.55" height="6" fill="#aac4e8"/><rect x="407.6" y="164.1" width="5.45" height="6" fill="#cdb8e6"/><rect x="413" y="164.1" width="3.05" height="6" fill="#a0a84e"/><rect x="416" y="164.1" width="2.55" height="6" fill="#e8943c"/><rect x="418.5" y="164.1" width="12.55" height="6" fill="#b35a24"/><rect x="431" y="164.1" width="6.05" height="6" fill="#e8943c"/><rect x="437" y="164.1" width="6.05" height="6" fill="#b35a24"/><rect x="443" y="164.1" width="6.05" height="6" fill="#b35a24"/><rect x="449" y="164.1" width="6.85" height="6" fill="#c2a88c"/><rect x="388.6" y="172.08" width="3.65" height="6" fill="#aac4e8"/><rect x="392.2" y="172.08" width="2.35" height="6" fill="#aac4e8"/><rect x="394.5" y="172.08" width="5.65" height="6" fill="#aac4e8"/><rect x="400.1" y="172.08" width="7.55" height="6" fill="#aac4e8"/><rect x="407.6" y="172.08" width="5.45" height="6" fill="#cdb8e6"/><rect x="413" y="172.08" width="3.05" height="6" fill="#a0a84e"/><rect x="416" y="172.08" width="2.55" height="6" fill="#e8943c"/><rect x="418.5" y="172.08" width="12.55" height="6" fill="#b35a24"/><rect x="431" y="172.08" width="6.05" height="6" fill="#dea446"/><rect x="437" y="172.08" width="6.05" height="6" fill="#dea446"/><rect x="443" y="172.08" width="6.05" height="6" fill="#b35a24"/><rect x="449" y="172.08" width="6.85" height="6" fill="#c2a88c"/><rect x="388.6" y="180.06" width="3.65" height="6" fill="#aac4e8"/><rect x="392.2" y="180.06" width="2.35" height="6" fill="#aac4e8"/><rect x="394.5" y="180.06" width="5.65" height="6" fill="#aac4e8"/><rect x="400.1" y="180.06" width="7.55" height="6" fill="#aac4e8"/><rect x="407.6" y="180.06" width="5.45" height="6" fill="#cdb8e6"/><rect x="413" y="180.06" width="3.05" height="6" fill="#a0a84e"/><rect x="416" y="180.06" width="2.55" height="6" fill="#e8943c"/><rect x="418.5" y="180.06" width="12.55" height="6" fill="#b35a24"/><rect x="431" y="180.06" width="6.05" height="6" fill="#dea446"/><rect x="437" y="180.06" width="6.05" height="6" fill="#dea446"/><rect x="443" y="180.06" width="6.05" height="6" fill="#b35a24"/><rect x="449" y="180.06" width="6.85" height="6" fill="#c2a88c"/><rect x="388.6" y="188.04" width="3.65" height="6" fill="#aab8e0"/><rect x="392.2" y="188.04" width="2.35" height="6" fill="#cdb8e6"/><rect x="394.5" y="188.04" width="5.65" height="6" fill="#a49c6c"/><rect x="400.1" y="188.04" width="7.55" height="6" fill="#aac4e8"/><rect x="407.6" y="188.04" width="5.45" height="6" fill="#cdb8e6"/><rect x="413" y="188.04" width="3.05" height="6" fill="#a0a84e"/><rect x="416" y="188.04" width="2.55" height="6" fill="#e8943c"/><rect x="418.5" y="188.04" width="12.55" height="6" fill="#b35a24"/><rect x="431" y="188.04" width="6.05" height="6" fill="#dea446"/><rect x="437" y="188.04" width="6.05" height="6" fill="#dea446"/><rect x="443" y="188.04" width="6.05" height="6" fill="#b35a24"/><rect x="449" y="188.04" width="6.85" height="6" fill="#c2a88c"/><rect x="388.6" y="196.02" width="3.65" height="6" fill="#aac4e8"/><rect x="392.2" y="196.02" width="2.35" height="6" fill="#aac4e8"/><rect x="394.5" y="196.02" width="5.65" height="6" fill="#aac4e8"/><rect x="400.1" y="196.02" width="7.55" height="6" fill="#aac4e8"/><rect x="407.6" y="196.02" width="5.45" height="6" fill="#cdb8e6"/><rect x="413" y="196.02" width="3.05" height="6" fill="#686a28"/><rect x="416" y="196.02" width="2.55" height="6" fill="#b35a24"/><rect x="418.5" y="196.02" width="12.55" height="6" fill="#b35a24"/><rect x="431" y="196.02" width="6.05" height="6" fill="#b35a24"/><rect x="437" y="196.02" width="6.05" height="6" fill="#e8943c"/><rect x="443" y="196.02" width="6.05" height="6" fill="#b35a24"/><rect x="449" y="196.02" width="6.85" height="6" fill="#c2a88c"/><rect x="388.6" y="204" width="3.65" height="6" fill="#aab8e0"/><rect x="392.2" y="204" width="2.35" height="6" fill="#cdb8e6"/><rect x="394.5" y="204" width="5.65" height="6" fill="#a49c6c"/><rect x="400.1" y="204" width="7.55" height="6" fill="#aac4e8"/><rect x="407.6" y="204" width="5.45" height="6" fill="#cdb8e6"/><rect x="413" y="204" width="3.05" height="6" fill="#a0a84e"/><rect x="416" y="204" width="2.55" height="6" fill="#e8943c"/><rect x="418.5" y="204" width="12.55" height="6" fill="#b35a24"/><rect x="431" y="204" width="6.05" height="6" fill="#dea446"/><rect x="437" y="204" width="6.05" height="6" fill="#dea446"/><rect x="443" y="204" width="6.05" height="6" fill="#b35a24"/><rect x="449" y="204" width="6.85" height="6" fill="#b35a24"/><rect x="388.6" y="211.98" width="3.65" height="6" fill="#aab8e0"/><rect x="392.2" y="211.98" width="2.35" height="6" fill="#cdb8e6"/><rect x="394.5" y="211.98" width="5.65" height="6" fill="#a49c6c"/><rect x="400.1" y="211.98" width="7.55" height="6" fill="#aac4e8"/><rect x="407.6" y="211.98" width="5.45" height="6" fill="#cdb8e6"/><rect x="413" y="211.98" width="3.05" height="6" fill="#a0a84e"/><rect x="416" y="211.98" width="2.55" height="6" fill="#e8943c"/><rect x="418.5" y="211.98" width="12.55" height="6" fill="#b35a24"/><rect x="431" y="211.98" width="6.05" height="6" fill="#dea446"/><rect x="437" y="211.98" width="6.05" height="6" fill="#dea446"/><rect x="443" y="211.98" width="6.05" height="6" fill="#b35a24"/><rect x="449" y="211.98" width="6.85" height="6" fill="#b35a24"/><rect x="388.6" y="219.96" width="3.65" height="6" fill="#aab8e0"/><rect x="392.2" y="219.96" width="2.35" height="6" fill="#cdb8e6"/><rect x="394.5" y="219.96" width="5.65" height="6" fill="#a49c6c"/><rect x="400.1" y="219.96" width="7.55" height="6" fill="#aac4e8"/><rect x="407.6" y="219.96" width="5.45" height="6" fill="#cdb8e6"/><rect x="413" y="219.96" width="3.05" height="6" fill="#686a28"/><rect x="416" y="219.96" width="2.55" height="6" fill="#b35a24"/><rect x="418.5" y="219.96" width="12.55" height="6" fill="#b35a24"/><rect x="431" y="219.96" width="6.05" height="6" fill="#dea446"/><rect x="437" y="219.96" width="6.05" height="6" fill="#dea446"/><rect x="443" y="219.96" width="6.05" height="6" fill="#b35a24"/><rect x="449" y="219.96" width="6.85" height="6" fill="#b35a24"/><rect x="388.6" y="227.94" width="3.65" height="6" fill="#aab8e0"/><rect x="392.2" y="227.94" width="2.35" height="6" fill="#cdb8e6"/><rect x="394.5" y="227.94" width="5.65" height="6" fill="#a49c6c"/><rect x="400.1" y="227.94" width="7.55" height="6" fill="#aac4e8"/><rect x="407.6" y="227.94" width="5.45" height="6" fill="#cdb8e6"/><rect x="413" y="227.94" width="3.05" height="6" fill="#a0a84e"/><rect x="416" y="227.94" width="2.55" height="6" fill="#e8943c"/><rect x="418.5" y="227.94" width="12.55" height="6" fill="#b35a24"/><rect x="431" y="227.94" width="6.05" height="6" fill="#dea446"/><rect x="437" y="227.94" width="6.05" height="6" fill="#dea446"/><rect x="443" y="227.94" width="6.05" height="6" fill="#b35a24"/><rect x="449" y="227.94" width="6.85" height="6" fill="#c2a88c"/><rect x="388.6" y="235.92" width="3.65" height="6" fill="#aab8e0"/><rect x="392.2" y="235.92" width="2.35" height="6" fill="#cdb8e6"/><rect x="394.5" y="235.92" width="5.65" height="6" fill="#a49c6c"/><rect x="400.1" y="235.92" width="7.55" height="6" fill="#aac4e8"/><rect x="407.6" y="235.92" width="5.45" height="6" fill="#cdb8e6"/><rect x="413" y="235.92" width="3.05" height="6" fill="#a0a84e"/><rect x="416" y="235.92" width="2.55" height="6" fill="#e8943c"/><rect x="418.5" y="235.92" width="12.55" height="6" fill="#b35a24"/><rect x="431" y="235.92" width="6.05" height="6" fill="#e8943c"/><rect x="437" y="235.92" width="6.05" height="6" fill="#b35a24"/><rect x="443" y="235.92" width="6.05" height="6" fill="#b35a24"/><rect x="449" y="235.92" width="6.85" height="6" fill="#c2a88c"/><rect x="388.6" y="243.9" width="3.65" height="6" fill="#aab8e0"/><rect x="392.2" y="243.9" width="2.35" height="6" fill="#cdb8e6"/><rect x="394.5" y="243.9" width="5.65" height="6" fill="#a49c6c"/><rect x="400.1" y="243.9" width="7.55" height="6" fill="#aac4e8"/><rect x="407.6" y="243.9" width="5.45" height="6" fill="#cdb8e6"/><rect x="413" y="243.9" width="3.05" height="6" fill="#a0a84e"/><rect x="416" y="243.9" width="2.55" height="6" fill="#e8943c"/><rect x="418.5" y="243.9" width="12.55" height="6" fill="#b35a24"/><rect x="431" y="243.9" width="6.05" height="6" fill="#e8943c"/><rect x="437" y="243.9" width="6.05" height="6" fill="#b35a24"/><rect x="443" y="243.9" width="6.05" height="6" fill="#b35a24"/><rect x="449" y="243.9" width="6.85" height="6" fill="#c2a88c"/><rect x="388.6" y="251.88" width="3.65" height="6" fill="#aab8e0"/><rect x="392.2" y="251.88" width="2.35" height="6" fill="#cdb8e6"/><rect x="394.5" y="251.88" width="5.65" height="6" fill="#a49c6c"/><rect x="400.1" y="251.88" width="7.55" height="6" fill="#aac4e8"/><rect x="407.6" y="251.88" width="5.45" height="6" fill="#cdb8e6"/><rect x="413" y="251.88" width="3.05" height="6" fill="#686a28"/><rect x="416" y="251.88" width="2.55" height="6" fill="#b35a24"/><rect x="418.5" y="251.88" width="12.55" height="6" fill="#b35a24"/><rect x="431" y="251.88" width="6.05" height="6" fill="#e8943c"/><rect x="437" y="251.88" width="6.05" height="6" fill="#b35a24"/><rect x="443" y="251.88" width="6.05" height="6" fill="#b35a24"/><rect x="449" y="251.88" width="6.85" height="6" fill="#c2a88c"/><rect x="388.6" y="259.86" width="3.65" height="6" fill="#aab8e0"/><rect x="392.2" y="259.86" width="2.35" height="6" fill="#cdb8e6"/><rect x="394.5" y="259.86" width="5.65" height="6" fill="#a49c6c"/><rect x="400.1" y="259.86" width="7.55" height="6" fill="#aac4e8"/><rect x="407.6" y="259.86" width="5.45" height="6" fill="#cdb8e6"/><rect x="413" y="259.86" width="3.05" height="6" fill="#a0a84e"/><rect x="416" y="259.86" width="2.55" height="6" fill="#e8943c"/><rect x="418.5" y="259.86" width="12.55" height="6" fill="#b35a24"/><rect x="431" y="259.86" width="6.05" height="6" fill="#e8943c"/><rect x="437" y="259.86" width="6.05" height="6" fill="#b35a24"/><rect x="443" y="259.86" width="6.05" height="6" fill="#b35a24"/><rect x="449" y="259.86" width="6.85" height="6" fill="#c2a88c"/><rect x="388.6" y="267.84" width="3.65" height="6" fill="#aac4e8"/><rect x="392.2" y="267.84" width="2.35" height="6" fill="#aac4e8"/><rect x="394.5" y="267.84" width="5.65" height="6" fill="#aac4e8"/><rect x="400.1" y="267.84" width="7.55" height="6" fill="#aac4e8"/><rect x="407.6" y="267.84" width="5.45" height="6" fill="#cdb8e6"/><rect x="413" y="267.84" width="3.05" height="6" fill="#a0a84e"/><rect x="416" y="267.84" width="2.55" height="6" fill="#e8943c"/><rect x="418.5" y="267.84" width="12.55" height="6" fill="#b35a24"/><rect x="431" y="267.84" width="6.05" height="6" fill="#dea446"/><rect x="437" y="267.84" width="6.05" height="6" fill="#dea446"/><rect x="443" y="267.84" width="6.05" height="6" fill="#b35a24"/><rect x="449" y="267.84" width="6.85" height="6" fill="#c2a88c"/><rect x="388.6" y="275.82" width="3.65" height="6" fill="#aab8e0"/><rect x="392.2" y="275.82" width="2.35" height="6" fill="#cdb8e6"/><rect x="394.5" y="275.82" width="5.65" height="6" fill="#a49c6c"/><rect x="400.1" y="275.82" width="7.55" height="6" fill="#aac4e8"/><rect x="407.6" y="275.82" width="5.45" height="6" fill="#cdb8e6"/><rect x="413" y="275.82" width="3.05" height="6" fill="#a0a84e"/><rect x="416" y="275.82" width="2.55" height="6" fill="#e8943c"/><rect x="418.5" y="275.82" width="12.55" height="6" fill="#b35a24"/><rect x="431" y="275.82" width="6.05" height="6" fill="#8a6a2a"/><rect x="437" y="275.82" width="6.05" height="6" fill="#dcb2e6"/><rect x="443" y="275.82" width="6.05" height="6" fill="#8a6a2a"/><rect x="449" y="275.82" width="6.85" height="6" fill="#c2a88c"/><rect x="388.6" y="283.8" width="3.65" height="6" fill="#aab8e0"/><rect x="392.2" y="283.8" width="2.35" height="6" fill="#cdb8e6"/><rect x="394.5" y="283.8" width="5.65" height="6" fill="#a49c6c"/><rect x="400.1" y="283.8" width="7.55" height="6" fill="#aac4e8"/><rect x="407.6" y="283.8" width="5.45" height="6" fill="#cdb8e6"/><rect x="413" y="283.8" width="3.05" height="6" fill="#a0a84e"/><rect x="416" y="283.8" width="2.55" height="6" fill="#e8943c"/><rect x="418.5" y="283.8" width="12.55" height="6" fill="#b35a24"/><rect x="431" y="283.8" width="6.05" height="6" fill="#8a6a2a"/><rect x="437" y="283.8" width="6.05" height="6" fill="#dcb2e6"/><rect x="443" y="283.8" width="6.05" height="6" fill="#8a6a2a"/><rect x="449" y="283.8" width="6.85" height="6" fill="#c2a88c"/><rect x="388.6" y="291.78" width="3.65" height="6" fill="#aab8e0"/><rect x="392.2" y="291.78" width="2.35" height="6" fill="#cdb8e6"/><rect x="394.5" y="291.78" width="5.65" height="6" fill="#a49c6c"/><rect x="400.1" y="291.78" width="7.55" height="6" fill="#aac4e8"/><rect x="407.6" y="291.78" width="5.45" height="6" fill="#cdb8e6"/><rect x="413" y="291.78" width="3.05" height="6" fill="#a0a84e"/><rect x="416" y="291.78" width="2.55" height="6" fill="#e8943c"/><rect x="418.5" y="291.78" width="12.55" height="6" fill="#b35a24"/><rect x="431" y="291.78" width="6.05" height="6" fill="#8a6a2a"/><rect x="437" y="291.78" width="6.05" height="6" fill="#dcb2e6"/><rect x="443" y="291.78" width="6.05" height="6" fill="#8a6a2a"/><rect x="449" y="291.78" width="6.85" height="6" fill="#c2a88c"/><rect x="388.6" y="299.76" width="3.65" height="6" fill="#aab8e0"/><rect x="392.2" y="299.76" width="2.35" height="6" fill="#cdb8e6"/><rect x="394.5" y="299.76" width="5.65" height="6" fill="#a49c6c"/><rect x="400.1" y="299.76" width="7.55" height="6" fill="#aac4e8"/><rect x="407.6" y="299.76" width="5.45" height="6" fill="#cdb8e6"/><rect x="413" y="299.76" width="3.05" height="6" fill="#a0a84e"/><rect x="416" y="299.76" width="2.55" height="6" fill="#e8943c"/><rect x="418.5" y="299.76" width="12.55" height="6" fill="#b35a24"/><rect x="431" y="299.76" width="6.05" height="6" fill="#8a6a2a"/><rect x="437" y="299.76" width="6.05" height="6" fill="#dcb2e6"/><rect x="443" y="299.76" width="6.05" height="6" fill="#8a6a2a"/><rect x="449" y="299.76" width="6.85" height="6" fill="#c2a88c"/><rect x="388.6" y="307.74" width="3.65" height="6" fill="#aab8e0"/><rect x="392.2" y="307.74" width="2.35" height="6" fill="#cdb8e6"/><rect x="394.5" y="307.74" width="5.65" height="6" fill="#a49c6c"/><rect x="400.1" y="307.74" width="7.55" height="6" fill="#aac4e8"/><rect x="407.6" y="307.74" width="5.45" height="6" fill="#cdb8e6"/><rect x="413" y="307.74" width="3.05" height="6" fill="#a0a84e"/><rect x="416" y="307.74" width="2.55" height="6" fill="#e8943c"/><rect x="418.5" y="307.74" width="12.55" height="6" fill="#b35a24"/><rect x="431" y="307.74" width="6.05" height="6" fill="#8a6a2a"/><rect x="437" y="307.74" width="6.05" height="6" fill="#dcb2e6"/><rect x="443" y="307.74" width="6.05" height="6" fill="#8a6a2a"/><rect x="449" y="307.74" width="6.85" height="6" fill="#c2a88c"/><rect x="388.6" y="315.72" width="3.65" height="6" fill="#aab8e0"/><rect x="392.2" y="315.72" width="2.35" height="6" fill="#cdb8e6"/><rect x="394.5" y="315.72" width="5.65" height="6" fill="#a49c6c"/><rect x="400.1" y="315.72" width="7.55" height="6" fill="#aac4e8"/><rect x="407.6" y="315.72" width="5.45" height="6" fill="#cdb8e6"/><rect x="413" y="315.72" width="3.05" height="6" fill="#a0a84e"/><rect x="416" y="315.72" width="2.55" height="6" fill="#e8943c"/><rect x="418.5" y="315.72" width="12.55" height="6" fill="#b35a24"/><rect x="431" y="315.72" width="6.05" height="6" fill="#8a6a2a"/><rect x="437" y="315.72" width="6.05" height="6" fill="#dcb2e6"/><rect x="443" y="315.72" width="6.05" height="6" fill="#8a6a2a"/><rect x="449" y="315.72" width="6.85" height="6" fill="#c2a88c"/><rect x="388.6" y="323.7" width="3.65" height="6" fill="#aab8e0"/><rect x="392.2" y="323.7" width="2.35" height="6" fill="#cdb8e6"/><rect x="394.5" y="323.7" width="5.65" height="6" fill="#a49c6c"/><rect x="400.1" y="323.7" width="7.55" height="6" fill="#aac4e8"/><rect x="407.6" y="323.7" width="5.45" height="6" fill="#cdb8e6"/><rect x="413" y="323.7" width="3.05" height="6" fill="#a0a84e"/><rect x="416" y="323.7" width="2.55" height="6" fill="#e8943c"/><rect x="418.5" y="323.7" width="12.55" height="6" fill="#b35a24"/><rect x="431" y="323.7" width="6.05" height="6" fill="#8a6a2a"/><rect x="437" y="323.7" width="6.05" height="6" fill="#dcb2e6"/><rect x="443" y="323.7" width="6.05" height="6" fill="#8a6a2a"/><rect x="449" y="323.7" width="6.85" height="6" fill="#c2a88c"/><rect x="388.6" y="331.68" width="3.65" height="6" fill="#aac4e8"/><rect x="392.2" y="331.68" width="2.35" height="6" fill="#aac4e8"/><rect x="394.5" y="331.68" width="5.65" height="6" fill="#aac4e8"/><rect x="400.1" y="331.68" width="7.55" height="6" fill="#aac4e8"/><rect x="407.6" y="331.68" width="5.45" height="6" fill="#cdb8e6"/><rect x="413" y="331.68" width="3.05" height="6" fill="#686a28"/><rect x="416" y="331.68" width="2.55" height="6" fill="#b35a24"/><rect x="418.5" y="331.68" width="12.55" height="6" fill="#b35a24"/><rect x="431" y="331.68" width="6.05" height="6" fill="#dea446"/><rect x="437" y="331.68" width="6.05" height="6" fill="#dcb2e6"/><rect x="443" y="331.68" width="6.05" height="6" fill="#8a6a2a"/><rect x="449" y="331.68" width="6.85" height="6" fill="#c2a88c"/><rect x="388.6" y="339.66" width="3.65" height="6" fill="#aab8e0"/><rect x="392.2" y="339.66" width="2.35" height="6" fill="#cdb8e6"/><rect x="394.5" y="339.66" width="5.65" height="6" fill="#a49c6c"/><rect x="400.1" y="339.66" width="7.55" height="6" fill="#aac4e8"/><rect x="407.6" y="339.66" width="5.45" height="6" fill="#cdb8e6"/><rect x="413" y="339.66" width="3.05" height="6" fill="#a0a84e"/><rect x="416" y="339.66" width="2.55" height="6" fill="#e8943c"/><rect x="418.5" y="339.66" width="12.55" height="6" fill="#b35a24"/><rect x="431" y="339.66" width="6.05" height="6" fill="#dea446"/><rect x="437" y="339.66" width="6.05" height="6" fill="#dea446"/><rect x="443" y="339.66" width="6.05" height="6" fill="#b35a24"/><rect x="449" y="339.66" width="6.85" height="6" fill="#b35a24"/><rect x="388.6" y="347.64" width="3.65" height="6" fill="#aab8e0"/><rect x="392.2" y="347.64" width="2.35" height="6" fill="#cdb8e6"/><rect x="394.5" y="347.64" width="5.65" height="6" fill="#a49c6c"/><rect x="400.1" y="347.64" width="7.55" height="6" fill="#aac4e8"/><rect x="407.6" y="347.64" width="5.45" height="6" fill="#cdb8e6"/><rect x="413" y="347.64" width="3.05" height="6" fill="#a0a84e"/><rect x="416" y="347.64" width="2.55" height="6" fill="#e8943c"/><rect x="418.5" y="347.64" width="12.55" height="6" fill="#b35a24"/><rect x="431" y="347.64" width="6.05" height="6" fill="#dea446"/><rect x="437" y="347.64" width="6.05" height="6" fill="#dea446"/><rect x="443" y="347.64" width="6.05" height="6" fill="#b35a24"/><rect x="449" y="347.64" width="6.85" height="6" fill="#b35a24"/><rect x="388.6" y="355.62" width="3.65" height="6" fill="#aab8e0"/><rect x="392.2" y="355.62" width="2.35" height="6" fill="#cdb8e6"/><rect x="394.5" y="355.62" width="5.65" height="6" fill="#a49c6c"/><rect x="400.1" y="355.62" width="7.55" height="6" fill="#aac4e8"/><rect x="407.6" y="355.62" width="5.45" height="6" fill="#cdb8e6"/><rect x="413" y="355.62" width="3.05" height="6" fill="#a0a84e"/><rect x="416" y="355.62" width="2.55" height="6" fill="#e8943c"/><rect x="418.5" y="355.62" width="12.55" height="6" fill="#b35a24"/><rect x="431" y="355.62" width="6.05" height="6" fill="#dea446"/><rect x="437" y="355.62" width="6.05" height="6" fill="#dea446"/><rect x="443" y="355.62" width="6.05" height="6" fill="#b35a24"/><rect x="449" y="355.62" width="6.85" height="6" fill="#b35a24"/><rect x="388.6" y="363.6" width="3.65" height="6" fill="#aab8e0"/><rect x="392.2" y="363.6" width="2.35" height="6" fill="#cdb8e6"/><rect x="394.5" y="363.6" width="5.65" height="6" fill="#a49c6c"/><rect x="400.1" y="363.6" width="7.55" height="6" fill="#aac4e8"/><rect x="407.6" y="363.6" width="5.45" height="6" fill="#cdb8e6"/><rect x="413" y="363.6" width="3.05" height="6" fill="#a0a84e"/><rect x="416" y="363.6" width="2.55" height="6" fill="#e8943c"/><rect x="418.5" y="363.6" width="12.55" height="6" fill="#b35a24"/><rect x="431" y="363.6" width="6.05" height="6" fill="#b35a24"/><rect x="437" y="363.6" width="6.05" height="6" fill="#e8943c"/><rect x="443" y="363.6" width="6.05" height="6" fill="#b35a24"/><rect x="449" y="363.6" width="6.85" height="6" fill="#b35a24"/><rect x="388.6" y="371.58" width="3.65" height="6" fill="#aab8e0"/><rect x="392.2" y="371.58" width="2.35" height="6" fill="#cdb8e6"/><rect x="394.5" y="371.58" width="5.65" height="6" fill="#a49c6c"/><rect x="400.1" y="371.58" width="7.55" height="6" fill="#aac4e8"/><rect x="407.6" y="371.58" width="5.45" height="6" fill="#cdb8e6"/><rect x="413" y="371.58" width="3.05" height="6" fill="#686a28"/><rect x="416" y="371.58" width="2.55" height="6" fill="#b35a24"/><rect x="418.5" y="371.58" width="12.55" height="6" fill="#b35a24"/><rect x="431" y="371.58" width="6.05" height="6" fill="#dea446"/><rect x="437" y="371.58" width="6.05" height="6" fill="#dea446"/><rect x="443" y="371.58" width="6.05" height="6" fill="#b35a24"/><rect x="449" y="371.58" width="6.85" height="6" fill="#b35a24"/><rect x="388.6" y="379.56" width="3.65" height="6" fill="#aab8e0"/><rect x="392.2" y="379.56" width="2.35" height="6" fill="#cdb8e6"/><rect x="394.5" y="379.56" width="5.65" height="6" fill="#a49c6c"/><rect x="400.1" y="379.56" width="7.55" height="6" fill="#aac4e8"/><rect x="407.6" y="379.56" width="5.45" height="6" fill="#cdb8e6"/><rect x="413" y="379.56" width="3.05" height="6" fill="#686a28"/><rect x="416" y="379.56" width="2.55" height="6" fill="#b35a24"/><rect x="418.5" y="379.56" width="12.55" height="6" fill="#b35a24"/><rect x="431" y="379.56" width="6.05" height="6" fill="#dea446"/><rect x="437" y="379.56" width="6.05" height="6" fill="#dea446"/><rect x="443" y="379.56" width="6.05" height="6" fill="#b35a24"/><rect x="449" y="379.56" width="6.85" height="6" fill="#b35a24"/><rect x="388.6" y="387.54" width="3.65" height="6" fill="#aab8e0"/><rect x="392.2" y="387.54" width="2.35" height="6" fill="#cdb8e6"/><rect x="394.5" y="387.54" width="5.65" height="6" fill="#a49c6c"/><rect x="400.1" y="387.54" width="7.55" height="6" fill="#aac4e8"/><rect x="407.6" y="387.54" width="5.45" height="6" fill="#cdb8e6"/><rect x="413" y="387.54" width="3.05" height="6" fill="#a0a84e"/><rect x="416" y="387.54" width="2.55" height="6" fill="#e8943c"/><rect x="418.5" y="387.54" width="12.55" height="6" fill="#b35a24"/><rect x="431" y="387.54" width="6.05" height="6" fill="#dea446"/><rect x="437" y="387.54" width="6.05" height="6" fill="#dea446"/><rect x="443" y="387.54" width="6.05" height="6" fill="#b35a24"/><rect x="449" y="387.54" width="6.85" height="6" fill="#b35a24"/><rect x="388.6" y="395.52" width="3.65" height="6" fill="#aab8e0"/><rect x="392.2" y="395.52" width="2.35" height="6" fill="#cdb8e6"/><rect x="394.5" y="395.52" width="5.65" height="6" fill="#a49c6c"/><rect x="400.1" y="395.52" width="7.55" height="6" fill="#aac4e8"/><rect x="407.6" y="395.52" width="5.45" height="6" fill="#cdb8e6"/><rect x="413" y="395.52" width="3.05" height="6" fill="#a0a84e"/><rect x="416" y="395.52" width="2.55" height="6" fill="#e8943c"/><rect x="418.5" y="395.52" width="12.55" height="6" fill="#b35a24"/><rect x="431" y="395.52" width="6.05" height="6" fill="#b35a24"/><rect x="437" y="395.52" width="6.05" height="6" fill="#e8943c"/><rect x="443" y="395.52" width="6.05" height="6" fill="#b35a24"/><rect x="449" y="395.52" width="6.85" height="6" fill="#e8943c"/><rect x="388.6" y="403.5" width="3.65" height="6" fill="#aab8e0"/><rect x="392.2" y="403.5" width="2.35" height="6" fill="#cdb8e6"/><rect x="394.5" y="403.5" width="5.65" height="6" fill="#a49c6c"/><rect x="400.1" y="403.5" width="7.55" height="6" fill="#aac4e8"/><rect x="407.6" y="403.5" width="5.45" height="6" fill="#cdb8e6"/><rect x="413" y="403.5" width="3.05" height="6" fill="#a0a84e"/><rect x="416" y="403.5" width="2.55" height="6" fill="#e8943c"/><rect x="418.5" y="403.5" width="12.55" height="6" fill="#b35a24"/><rect x="431" y="403.5" width="6.05" height="6" fill="#b35a24"/><rect x="437" y="403.5" width="6.05" height="6" fill="#e8943c"/><rect x="443" y="403.5" width="6.05" height="6" fill="#b35a24"/><rect x="449" y="403.5" width="6.85" height="6" fill="#e8943c"/><rect x="388.6" y="411.48" width="3.65" height="6" fill="#aab8e0"/><rect x="392.2" y="411.48" width="2.35" height="6" fill="#cdb8e6"/><rect x="394.5" y="411.48" width="5.65" height="6" fill="#a49c6c"/><rect x="400.1" y="411.48" width="7.55" height="6" fill="#aac4e8"/><rect x="407.6" y="411.48" width="5.45" height="6" fill="#cdb8e6"/><rect x="413" y="411.48" width="3.05" height="6" fill="#a0a84e"/><rect x="416" y="411.48" width="2.55" height="6" fill="#e8943c"/><rect x="418.5" y="411.48" width="12.55" height="6" fill="#b35a24"/><rect x="431" y="411.48" width="6.05" height="6" fill="#b35a24"/><rect x="437" y="411.48" width="6.05" height="6" fill="#e8943c"/><rect x="443" y="411.48" width="6.05" height="6" fill="#b35a24"/><rect x="449" y="411.48" width="6.85" height="6" fill="#e8943c"/><rect x="388.6" y="419.46" width="3.65" height="6" fill="#aac4e8"/><rect x="392.2" y="419.46" width="2.35" height="6" fill="#aac4e8"/><rect x="394.5" y="419.46" width="5.65" height="6" fill="#aac4e8"/><rect x="400.1" y="419.46" width="7.55" height="6" fill="#aac4e8"/><rect x="407.6" y="419.46" width="5.45" height="6" fill="#cdb8e6"/><rect x="413" y="419.46" width="3.05" height="6" fill="#a0a84e"/><rect x="416" y="419.46" width="2.55" height="6" fill="#e8943c"/><rect x="418.5" y="419.46" width="12.55" height="6" fill="#b35a24"/><rect x="431" y="419.46" width="6.05" height="6" fill="#dea446"/><rect x="437" y="419.46" width="6.05" height="6" fill="#dea446"/><rect x="443" y="419.46" width="6.05" height="6" fill="#b35a24"/><rect x="449" y="419.46" width="6.85" height="6" fill="#e8943c"/><rect x="388.6" y="427.44" width="3.65" height="6" fill="#aac4e8"/><rect x="392.2" y="427.44" width="2.35" height="6" fill="#aac4e8"/><rect x="394.5" y="427.44" width="5.65" height="6" fill="#aac4e8"/><rect x="400.1" y="427.44" width="7.55" height="6" fill="#aac4e8"/><rect x="407.6" y="427.44" width="5.45" height="6" fill="#cdb8e6"/><rect x="413" y="427.44" width="3.05" height="6" fill="#a0a84e"/><rect x="416" y="427.44" width="2.55" height="6" fill="#e8943c"/><rect x="418.5" y="427.44" width="12.55" height="6" fill="#b35a24"/><rect x="431" y="427.44" width="6.05" height="6" fill="#b35a24"/><rect x="437" y="427.44" width="6.05" height="6" fill="#e8943c"/><rect x="443" y="427.44" width="6.05" height="6" fill="#b35a24"/><rect x="449" y="427.44" width="6.85" height="6" fill="#e8943c"/><rect x="388.6" y="435.42" width="3.65" height="6" fill="#aab8e0"/><rect x="392.2" y="435.42" width="2.35" height="6" fill="#cdb8e6"/><rect x="394.5" y="435.42" width="5.65" height="6" fill="#a49c6c"/><rect x="400.1" y="435.42" width="7.55" height="6" fill="#aac4e8"/><rect x="407.6" y="435.42" width="5.45" height="6" fill="#cdb8e6"/><rect x="413" y="435.42" width="3.05" height="6" fill="#686a28"/><rect x="416" y="435.42" width="2.55" height="6" fill="#b35a24"/><rect x="418.5" y="435.42" width="12.55" height="6" fill="#b35a24"/><rect x="431" y="435.42" width="6.05" height="6" fill="#b35a24"/><rect x="437" y="435.42" width="6.05" height="6" fill="#e8943c"/><rect x="443" y="435.42" width="6.05" height="6" fill="#b35a24"/><rect x="449" y="435.42" width="6.85" height="6" fill="#b35a24"/><rect x="388.6" y="443.4" width="3.65" height="6" fill="#aab8e0"/><rect x="392.2" y="443.4" width="2.35" height="6" fill="#cdb8e6"/><rect x="394.5" y="443.4" width="5.65" height="6" fill="#a49c6c"/><rect x="400.1" y="443.4" width="7.55" height="6" fill="#aac4e8"/><rect x="407.6" y="443.4" width="5.45" height="6" fill="#cdb8e6"/><rect x="413" y="443.4" width="3.05" height="6" fill="#a0a84e"/><rect x="416" y="443.4" width="2.55" height="6" fill="#e8943c"/><rect x="418.5" y="443.4" width="12.55" height="6" fill="#b35a24"/><rect x="431" y="443.4" width="6.05" height="6" fill="#e8943c"/><rect x="437" y="443.4" width="6.05" height="6" fill="#b35a24"/><rect x="443" y="443.4" width="6.05" height="6" fill="#b35a24"/><rect x="449" y="443.4" width="6.85" height="6" fill="#c2a88c"/><rect x="388.6" y="451.38" width="3.65" height="6" fill="#aab8e0"/><rect x="392.2" y="451.38" width="2.35" height="6" fill="#cdb8e6"/><rect x="394.5" y="451.38" width="5.65" height="6" fill="#a49c6c"/><rect x="400.1" y="451.38" width="7.55" height="6" fill="#aac4e8"/><rect x="407.6" y="451.38" width="5.45" height="6" fill="#cdb8e6"/><rect x="413" y="451.38" width="3.05" height="6" fill="#a0a84e"/><rect x="416" y="451.38" width="2.55" height="6" fill="#e8943c"/><rect x="418.5" y="451.38" width="12.55" height="6" fill="#b35a24"/><rect x="431" y="451.38" width="6.05" height="6" fill="#e8943c"/><rect x="437" y="451.38" width="6.05" height="6" fill="#b35a24"/><rect x="443" y="451.38" width="6.05" height="6" fill="#b35a24"/><rect x="449" y="451.38" width="6.85" height="6" fill="#c2a88c"/><rect x="388.6" y="459.36" width="3.65" height="6" fill="#aab8e0"/><rect x="392.2" y="459.36" width="2.35" height="6" fill="#cdb8e6"/><rect x="394.5" y="459.36" width="5.65" height="6" fill="#a49c6c"/><rect x="400.1" y="459.36" width="7.55" height="6" fill="#aac4e8"/><rect x="407.6" y="459.36" width="5.45" height="6" fill="#cdb8e6"/><rect x="413" y="459.36" width="3.05" height="6" fill="#a0a84e"/><rect x="416" y="459.36" width="2.55" height="6" fill="#e8943c"/><rect x="418.5" y="459.36" width="12.55" height="6" fill="#b35a24"/><rect x="431" y="459.36" width="6.05" height="6" fill="#e8943c"/><rect x="437" y="459.36" width="6.05" height="6" fill="#b35a24"/><rect x="443" y="459.36" width="6.05" height="6" fill="#b35a24"/><rect x="449" y="459.36" width="6.85" height="6" fill="#c2a88c"/><rect x="388.6" y="467.34" width="3.65" height="6" fill="#aab8e0"/><rect x="392.2" y="467.34" width="2.35" height="6" fill="#cdb8e6"/><rect x="394.5" y="467.34" width="5.65" height="6" fill="#a49c6c"/><rect x="400.1" y="467.34" width="7.55" height="6" fill="#aac4e8"/><rect x="407.6" y="467.34" width="5.45" height="6" fill="#cdb8e6"/><rect x="413" y="467.34" width="3.05" height="6" fill="#a0a84e"/><rect x="416" y="467.34" width="2.55" height="6" fill="#e8943c"/><rect x="418.5" y="467.34" width="12.55" height="6" fill="#b35a24"/><rect x="431" y="467.34" width="6.05" height="6" fill="#e8943c"/><rect x="437" y="467.34" width="6.05" height="6" fill="#b35a24"/><rect x="443" y="467.34" width="6.05" height="6" fill="#b35a24"/><rect x="449" y="467.34" width="6.85" height="6" fill="#c2a88c"/><rect x="388.6" y="475.32" width="3.65" height="6" fill="#aac4e8"/><rect x="392.2" y="475.32" width="2.35" height="6" fill="#aac4e8"/><rect x="394.5" y="475.32" width="5.65" height="6" fill="#aac4e8"/><rect x="400.1" y="475.32" width="7.55" height="6" fill="#aac4e8"/><rect x="407.6" y="475.32" width="5.45" height="6" fill="#cdb8e6"/><rect x="413" y="475.32" width="3.05" height="6" fill="#a0a84e"/><rect x="416" y="475.32" width="2.55" height="6" fill="#e8943c"/><rect x="418.5" y="475.32" width="12.55" height="6" fill="#b35a24"/><rect x="431" y="475.32" width="6.05" height="6" fill="#b35a24"/><rect x="437" y="475.32" width="6.05" height="6" fill="#e8943c"/><rect x="443" y="475.32" width="6.05" height="6" fill="#b35a24"/><rect x="449" y="475.32" width="6.85" height="6" fill="#c2a88c"/><rect x="388.6" y="483.3" width="3.65" height="6" fill="#aab8e0"/><rect x="392.2" y="483.3" width="2.35" height="6" fill="#cdb8e6"/><rect x="394.5" y="483.3" width="5.65" height="6" fill="#a49c6c"/><rect x="400.1" y="483.3" width="7.55" height="6" fill="#aac4e8"/><rect x="407.6" y="483.3" width="5.45" height="6" fill="#cdb8e6"/><rect x="413" y="483.3" width="3.05" height="6" fill="#a0a84e"/><rect x="416" y="483.3" width="2.55" height="6" fill="#e8943c"/><rect x="418.5" y="483.3" width="12.55" height="6" fill="#b35a24"/><rect x="431" y="483.3" width="6.05" height="6" fill="#b35a24"/><rect x="437" y="483.3" width="6.05" height="6" fill="#e8943c"/><rect x="443" y="483.3" width="6.05" height="6" fill="#b35a24"/><rect x="449" y="483.3" width="6.85" height="6" fill="#c2a88c"/><rect x="388.6" y="491.28" width="3.65" height="6" fill="#aab8e0"/><rect x="392.2" y="491.28" width="2.35" height="6" fill="#cdb8e6"/><rect x="394.5" y="491.28" width="5.65" height="6" fill="#a49c6c"/><rect x="400.1" y="491.28" width="7.55" height="6" fill="#aac4e8"/><rect x="407.6" y="491.28" width="5.45" height="6" fill="#cdb8e6"/><rect x="413" y="491.28" width="3.05" height="6" fill="#a0a84e"/><rect x="416" y="491.28" width="2.55" height="6" fill="#e8943c"/><rect x="418.5" y="491.28" width="12.55" height="6" fill="#b35a24"/><rect x="431" y="491.28" width="6.05" height="6" fill="#b35a24"/><rect x="437" y="491.28" width="6.05" height="6" fill="#e8943c"/><rect x="443" y="491.28" width="6.05" height="6" fill="#b35a24"/><rect x="449" y="491.28" width="6.85" height="6" fill="#cabbe8"/><rect x="388.6" y="499.26" width="3.65" height="6" fill="#aab8e0"/><rect x="392.2" y="499.26" width="2.35" height="6" fill="#cdb8e6"/><rect x="394.5" y="499.26" width="5.65" height="6" fill="#a49c6c"/><rect x="400.1" y="499.26" width="7.55" height="6" fill="#aac4e8"/><rect x="407.6" y="499.26" width="5.45" height="6" fill="#cdb8e6"/><rect x="413" y="499.26" width="3.05" height="6" fill="#a0a84e"/><rect x="416" y="499.26" width="2.55" height="6" fill="#e8943c"/><rect x="418.5" y="499.26" width="12.55" height="6" fill="#b35a24"/><rect x="431" y="499.26" width="6.05" height="6" fill="#b35a24"/><rect x="437" y="499.26" width="6.05" height="6" fill="#b35a24"/><rect x="443" y="499.26" width="6.05" height="6" fill="#b35a24"/><rect x="449" y="499.26" width="6.85" height="6" fill="#c2a88c"/><rect x="388.6" y="507.24" width="3.65" height="6" fill="#aab8e0"/><rect x="392.2" y="507.24" width="2.35" height="6" fill="#cdb8e6"/><rect x="394.5" y="507.24" width="5.65" height="6" fill="#a49c6c"/><rect x="400.1" y="507.24" width="7.55" height="6" fill="#aac4e8"/><rect x="407.6" y="507.24" width="5.45" height="6" fill="#cdb8e6"/><rect x="413" y="507.24" width="3.05" height="6" fill="#a0a84e"/><rect x="416" y="507.24" width="2.55" height="6" fill="#e8943c"/><rect x="418.5" y="507.24" width="12.55" height="6" fill="#b35a24"/><rect x="431" y="507.24" width="6.05" height="6" fill="#dea446"/><rect x="437" y="507.24" width="6.05" height="6" fill="#dea446"/><rect x="443" y="507.24" width="6.05" height="6" fill="#b35a24"/><rect x="449" y="507.24" width="6.85" height="6" fill="#c2a88c"/><rect x="388.6" y="515.22" width="3.65" height="6" fill="#aab8e0"/><rect x="392.2" y="515.22" width="2.35" height="6" fill="#cdb8e6"/><rect x="394.5" y="515.22" width="5.65" height="6" fill="#a49c6c"/><rect x="400.1" y="515.22" width="7.55" height="6" fill="#aac4e8"/><rect x="407.6" y="515.22" width="5.45" height="6" fill="#cdb8e6"/><rect x="413" y="515.22" width="3.05" height="6" fill="#a0a84e"/><rect x="416" y="515.22" width="2.55" height="6" fill="#e8943c"/><rect x="418.5" y="515.22" width="12.55" height="6" fill="#b35a24"/><rect x="431" y="515.22" width="6.05" height="6" fill="#e8943c"/><rect x="437" y="515.22" width="6.05" height="6" fill="#b35a24"/><rect x="443" y="515.22" width="6.05" height="6" fill="#b35a24"/><rect x="449" y="515.22" width="6.85" height="6" fill="#c2a88c"/><rect x="388.6" y="523.2" width="3.65" height="6" fill="#aab8e0"/><rect x="392.2" y="523.2" width="2.35" height="6" fill="#cdb8e6"/><rect x="394.5" y="523.2" width="5.65" height="6" fill="#a49c6c"/><rect x="400.1" y="523.2" width="7.55" height="6" fill="#aac4e8"/><rect x="407.6" y="523.2" width="5.45" height="6" fill="#cdb8e6"/><rect x="413" y="523.2" width="3.05" height="6" fill="#a0a84e"/><rect x="416" y="523.2" width="2.55" height="6" fill="#e8943c"/><rect x="418.5" y="523.2" width="12.55" height="6" fill="#b35a24"/><rect x="431" y="523.2" width="6.05" height="6" fill="#e8943c"/><rect x="437" y="523.2" width="6.05" height="6" fill="#b35a24"/><rect x="443" y="523.2" width="6.05" height="6" fill="#b35a24"/><rect x="449" y="523.2" width="6.85" height="6" fill="#c2a88c"/><rect x="388.6" y="531.18" width="3.65" height="6" fill="#aab8e0"/><rect x="392.2" y="531.18" width="2.35" height="6" fill="#cdb8e6"/><rect x="394.5" y="531.18" width="5.65" height="6" fill="#a49c6c"/><rect x="400.1" y="531.18" width="7.55" height="6" fill="#aac4e8"/><rect x="407.6" y="531.18" width="5.45" height="6" fill="#cdb8e6"/><rect x="413" y="531.18" width="3.05" height="6" fill="#a0a84e"/><rect x="416" y="531.18" width="2.55" height="6" fill="#e8943c"/><rect x="418.5" y="531.18" width="12.55" height="6" fill="#b35a24"/><rect x="431" y="531.18" width="6.05" height="6" fill="#e8943c"/><rect x="437" y="531.18" width="6.05" height="6" fill="#b35a24"/><rect x="443" y="531.18" width="6.05" height="6" fill="#b35a24"/><rect x="449" y="531.18" width="6.85" height="6" fill="#c2a88c"/><rect x="388.6" y="539.16" width="3.65" height="6" fill="#aab8e0"/><rect x="392.2" y="539.16" width="2.35" height="6" fill="#cdb8e6"/><rect x="394.5" y="539.16" width="5.65" height="6" fill="#a49c6c"/><rect x="400.1" y="539.16" width="7.55" height="6" fill="#aac4e8"/><rect x="407.6" y="539.16" width="5.45" height="6" fill="#cdb8e6"/><rect x="413" y="539.16" width="3.05" height="6" fill="#a0a84e"/><rect x="416" y="539.16" width="2.55" height="6" fill="#e8943c"/><rect x="418.5" y="539.16" width="12.55" height="6" fill="#b35a24"/><rect x="431" y="539.16" width="6.05" height="6" fill="#e8943c"/><rect x="437" y="539.16" width="6.05" height="6" fill="#b35a24"/><rect x="443" y="539.16" width="6.05" height="6" fill="#b35a24"/><rect x="449" y="539.16" width="6.85" height="6" fill="#b2c8ec"/><rect x="388.6" y="547.14" width="3.65" height="6" fill="#aac4e8"/><rect x="392.2" y="547.14" width="2.35" height="6" fill="#aac4e8"/><rect x="394.5" y="547.14" width="5.65" height="6" fill="#aac4e8"/><rect x="400.1" y="547.14" width="7.55" height="6" fill="#aac4e8"/><rect x="407.6" y="547.14" width="5.45" height="6" fill="#cdb8e6"/><rect x="413" y="547.14" width="3.05" height="6" fill="#a0a84e"/><rect x="416" y="547.14" width="2.55" height="6" fill="#e8943c"/><rect x="418.5" y="547.14" width="12.55" height="6" fill="#b35a24"/><rect x="431" y="547.14" width="6.05" height="6" fill="#dea446"/><rect x="437" y="547.14" width="6.05" height="6" fill="#dea446"/><rect x="443" y="547.14" width="6.05" height="6" fill="#b35a24"/><rect x="449" y="547.14" width="6.85" height="6" fill="#c2a88c"/><rect x="388.6" y="555.12" width="3.65" height="6" fill="#aab8e0"/><rect x="392.2" y="555.12" width="2.35" height="6" fill="#cdb8e6"/><rect x="394.5" y="555.12" width="5.65" height="6" fill="#a49c6c"/><rect x="400.1" y="555.12" width="7.55" height="6" fill="#aac4e8"/><rect x="407.6" y="555.12" width="5.45" height="6" fill="#cdb8e6"/><rect x="413" y="555.12" width="3.05" height="6" fill="#686a28"/><rect x="416" y="555.12" width="2.55" height="6" fill="#b35a24"/><rect x="418.5" y="555.12" width="12.55" height="6" fill="#b35a24"/><rect x="431" y="555.12" width="6.05" height="6" fill="#e8943c"/><rect x="437" y="555.12" width="6.05" height="6" fill="#b35a24"/><rect x="443" y="555.12" width="6.05" height="6" fill="#b35a24"/><rect x="449" y="555.12" width="6.85" height="6" fill="#b2c8ec"/><rect x="388.6" y="563.1" width="3.65" height="6" fill="#aab8e0"/><rect x="392.2" y="563.1" width="2.35" height="6" fill="#cdb8e6"/><rect x="394.5" y="563.1" width="5.65" height="6" fill="#a49c6c"/><rect x="400.1" y="563.1" width="7.55" height="6" fill="#aac4e8"/><rect x="407.6" y="563.1" width="5.45" height="6" fill="#cdb8e6"/><rect x="413" y="563.1" width="3.05" height="6" fill="#686a28"/><rect x="416" y="563.1" width="2.55" height="6" fill="#b35a24"/><rect x="418.5" y="563.1" width="12.55" height="6" fill="#b35a24"/><rect x="431" y="563.1" width="6.05" height="6" fill="#e8943c"/><rect x="437" y="563.1" width="6.05" height="6" fill="#b35a24"/><rect x="443" y="563.1" width="6.05" height="6" fill="#b35a24"/><rect x="449" y="563.1" width="6.85" height="6" fill="#b2c8ec"/><rect x="388.6" y="571.08" width="3.65" height="6" fill="#aab8e0"/><rect x="392.2" y="571.08" width="2.35" height="6" fill="#cdb8e6"/><rect x="394.5" y="571.08" width="5.65" height="6" fill="#a49c6c"/><rect x="400.1" y="571.08" width="7.55" height="6" fill="#aac4e8"/><rect x="407.6" y="571.08" width="5.45" height="6" fill="#cdb8e6"/><rect x="413" y="571.08" width="3.05" height="6" fill="#686a28"/><rect x="416" y="571.08" width="2.55" height="6" fill="#b35a24"/><rect x="418.5" y="571.08" width="12.55" height="6" fill="#b35a24"/><rect x="431" y="571.08" width="6.05" height="6" fill="#dea446"/><rect x="437" y="571.08" width="6.05" height="6" fill="#dea446"/><rect x="443" y="571.08" width="6.05" height="6" fill="#b35a24"/><rect x="449" y="571.08" width="6.85" height="6" fill="#b2c8ec"/><rect x="388.6" y="579.06" width="3.65" height="6" fill="#aab8e0"/><rect x="392.2" y="579.06" width="2.35" height="6" fill="#cdb8e6"/><rect x="394.5" y="579.06" width="5.65" height="6" fill="#a49c6c"/><rect x="400.1" y="579.06" width="7.55" height="6" fill="#aac4e8"/><rect x="407.6" y="579.06" width="5.45" height="6" fill="#cdb8e6"/><rect x="413" y="579.06" width="3.05" height="6" fill="#686a28"/><rect x="416" y="579.06" width="2.55" height="6" fill="#b35a24"/><rect x="418.5" y="579.06" width="12.55" height="6" fill="#b35a24"/><rect x="431" y="579.06" width="6.05" height="6" fill="#dea446"/><rect x="437" y="579.06" width="6.05" height="6" fill="#dea446"/><rect x="443" y="579.06" width="6.05" height="6" fill="#b35a24"/><rect x="449" y="579.06" width="6.85" height="6" fill="#b2c8ec"/><rect x="388.6" y="587.04" width="3.65" height="6" fill="#aab8e0"/><rect x="392.2" y="587.04" width="2.35" height="6" fill="#cdb8e6"/><rect x="394.5" y="587.04" width="5.65" height="6" fill="#a49c6c"/><rect x="400.1" y="587.04" width="7.55" height="6" fill="#aac4e8"/><rect x="407.6" y="587.04" width="5.45" height="6" fill="#cdb8e6"/><rect x="413" y="587.04" width="3.05" height="6" fill="#686a28"/><rect x="416" y="587.04" width="2.55" height="6" fill="#b35a24"/><rect x="418.5" y="587.04" width="12.55" height="6" fill="#b35a24"/><rect x="431" y="587.04" width="6.05" height="6" fill="#e8943c"/><rect x="437" y="587.04" width="6.05" height="6" fill="#b35a24"/><rect x="443" y="587.04" width="6.05" height="6" fill="#b35a24"/><rect x="449" y="587.04" width="6.85" height="6" fill="#b2c8ec"/><rect x="388.6" y="595.02" width="3.65" height="6" fill="#aab8e0"/><rect x="392.2" y="595.02" width="2.35" height="6" fill="#cdb8e6"/><rect x="394.5" y="595.02" width="5.65" height="6" fill="#a49c6c"/><rect x="400.1" y="595.02" width="7.55" height="6" fill="#aac4e8"/><rect x="407.6" y="595.02" width="5.45" height="6" fill="#cdb8e6"/><rect x="413" y="595.02" width="3.05" height="6" fill="#686a28"/><rect x="416" y="595.02" width="2.55" height="6" fill="#b35a24"/><rect x="418.5" y="595.02" width="12.55" height="6" fill="#b35a24"/><rect x="431" y="595.02" width="6.05" height="6" fill="#dea446"/><rect x="437" y="595.02" width="6.05" height="6" fill="#dea446"/><rect x="443" y="595.02" width="6.05" height="6" fill="#b35a24"/><rect x="449" y="595.02" width="6.85" height="6" fill="#b2c8ec"/><rect x="388.6" y="603" width="3.65" height="6" fill="#aac4e8"/><rect x="392.2" y="603" width="2.35" height="6" fill="#aac4e8"/><rect x="394.5" y="603" width="5.65" height="6" fill="#aac4e8"/><rect x="400.1" y="603" width="7.55" height="6" fill="#aac4e8"/><rect x="407.6" y="603" width="5.45" height="6" fill="#cdb8e6"/><rect x="413" y="603" width="3.05" height="6" fill="#686a28"/><rect x="416" y="603" width="2.55" height="6" fill="#b35a24"/><rect x="418.5" y="603" width="12.55" height="6" fill="#b35a24"/><rect x="431" y="603" width="6.05" height="6" fill="#b35a24"/><rect x="437" y="603" width="6.05" height="6" fill="#e8943c"/><rect x="443" y="603" width="6.05" height="6" fill="#b35a24"/><rect x="449" y="603" width="6.85" height="6" fill="#c2a88c"/><rect x="388.6" y="610.98" width="3.65" height="6" fill="#aac4e8"/><rect x="392.2" y="610.98" width="2.35" height="6" fill="#aac4e8"/><rect x="394.5" y="610.98" width="5.65" height="6" fill="#aac4e8"/><rect x="400.1" y="610.98" width="7.55" height="6" fill="#aac4e8"/><rect x="407.6" y="610.98" width="5.45" height="6" fill="#cdb8e6"/><rect x="413" y="610.98" width="3.05" height="6" fill="#a0a84e"/><rect x="416" y="610.98" width="2.55" height="6" fill="#e8943c"/><rect x="418.5" y="610.98" width="12.55" height="6" fill="#b35a24"/><rect x="431" y="610.98" width="6.05" height="6" fill="#dea446"/><rect x="437" y="610.98" width="6.05" height="6" fill="#dea446"/><rect x="443" y="610.98" width="6.05" height="6" fill="#b35a24"/><rect x="449" y="610.98" width="6.85" height="6" fill="#e8943c"/><rect x="388.6" y="618.96" width="3.65" height="6" fill="#aab8e0"/><rect x="392.2" y="618.96" width="2.35" height="6" fill="#cdb8e6"/><rect x="394.5" y="618.96" width="5.65" height="6" fill="#a49c6c"/><rect x="400.1" y="618.96" width="7.55" height="6" fill="#aac4e8"/><rect x="407.6" y="618.96" width="5.45" height="6" fill="#cdb8e6"/><rect x="413" y="618.96" width="3.05" height="6" fill="#686a28"/><rect x="416" y="618.96" width="2.55" height="6" fill="#b35a24"/><rect x="418.5" y="618.96" width="12.55" height="6" fill="#b35a24"/><rect x="431" y="618.96" width="6.05" height="6" fill="#b35a24"/><rect x="437" y="618.96" width="6.05" height="6" fill="#e8943c"/><rect x="443" y="618.96" width="6.05" height="6" fill="#b35a24"/><rect x="449" y="618.96" width="6.85" height="6" fill="#e8943c"/><rect x="388.6" y="626.94" width="3.65" height="6" fill="#aab8e0"/><rect x="392.2" y="626.94" width="2.35" height="6" fill="#cdb8e6"/><rect x="394.5" y="626.94" width="5.65" height="6" fill="#a49c6c"/><rect x="400.1" y="626.94" width="7.55" height="6" fill="#aac4e8"/><rect x="407.6" y="626.94" width="5.45" height="6" fill="#cdb8e6"/><rect x="413" y="626.94" width="3.05" height="6" fill="#a0a84e"/><rect x="416" y="626.94" width="2.55" height="6" fill="#e8943c"/><rect x="418.5" y="626.94" width="12.55" height="6" fill="#b35a24"/><rect x="431" y="626.94" width="6.05" height="6" fill="#dea446"/><rect x="437" y="626.94" width="6.05" height="6" fill="#dea446"/><rect x="443" y="626.94" width="6.05" height="6" fill="#b35a24"/><rect x="449" y="626.94" width="6.85" height="6" fill="#b35a24"/><rect x="388.6" y="634.92" width="3.65" height="6" fill="#aab8e0"/><rect x="392.2" y="634.92" width="2.35" height="6" fill="#cdb8e6"/><rect x="394.5" y="634.92" width="5.65" height="6" fill="#a49c6c"/><rect x="400.1" y="634.92" width="7.55" height="6" fill="#aac4e8"/><rect x="407.6" y="634.92" width="5.45" height="6" fill="#cdb8e6"/><rect x="413" y="634.92" width="3.05" height="6" fill="#a0a84e"/><rect x="416" y="634.92" width="2.55" height="6" fill="#e8943c"/><rect x="418.5" y="634.92" width="12.55" height="6" fill="#b35a24"/><rect x="431" y="634.92" width="6.05" height="6" fill="#dea446"/><rect x="437" y="634.92" width="6.05" height="6" fill="#dea446"/><rect x="443" y="634.92" width="6.05" height="6" fill="#b35a24"/><rect x="449" y="634.92" width="6.85" height="6" fill="#b35a24"/><rect x="388.6" y="642.9" width="3.65" height="6" fill="#aab8e0"/><rect x="392.2" y="642.9" width="2.35" height="6" fill="#cdb8e6"/><rect x="394.5" y="642.9" width="5.65" height="6" fill="#a49c6c"/><rect x="400.1" y="642.9" width="7.55" height="6" fill="#aac4e8"/><rect x="407.6" y="642.9" width="5.45" height="6" fill="#cdb8e6"/><rect x="413" y="642.9" width="3.05" height="6" fill="#a0a84e"/><rect x="416" y="642.9" width="2.55" height="6" fill="#e8943c"/><rect x="418.5" y="642.9" width="12.55" height="6" fill="#b35a24"/><rect x="431" y="642.9" width="6.05" height="6" fill="#dea446"/><rect x="437" y="642.9" width="6.05" height="6" fill="#dea446"/><rect x="443" y="642.9" width="6.05" height="6" fill="#b35a24"/><rect x="449" y="642.9" width="6.85" height="6" fill="#b35a24"/><rect x="388.6" y="650.88" width="3.65" height="6" fill="#aab8e0"/><rect x="392.2" y="650.88" width="2.35" height="6" fill="#cdb8e6"/><rect x="394.5" y="650.88" width="5.65" height="6" fill="#a49c6c"/><rect x="400.1" y="650.88" width="7.55" height="6" fill="#aac4e8"/><rect x="407.6" y="650.88" width="5.45" height="6" fill="#cdb8e6"/><rect x="413" y="650.88" width="3.05" height="6" fill="#a0a84e"/><rect x="416" y="650.88" width="2.55" height="6" fill="#e8943c"/><rect x="418.5" y="650.88" width="12.55" height="6" fill="#b35a24"/><rect x="431" y="650.88" width="6.05" height="6" fill="#b35a24"/><rect x="437" y="650.88" width="6.05" height="6" fill="#e8943c"/><rect x="443" y="650.88" width="6.05" height="6" fill="#b35a24"/><rect x="449" y="650.88" width="6.85" height="6" fill="#e8943c"/><rect x="388.6" y="658.86" width="3.65" height="6" fill="#aac4e8"/><rect x="392.2" y="658.86" width="2.35" height="6" fill="#aac4e8"/><rect x="394.5" y="658.86" width="5.65" height="6" fill="#aac4e8"/><rect x="400.1" y="658.86" width="7.55" height="6" fill="#aac4e8"/><rect x="407.6" y="658.86" width="5.45" height="6" fill="#cdb8e6"/><rect x="413" y="658.86" width="3.05" height="6" fill="#a0a84e"/><rect x="416" y="658.86" width="2.55" height="6" fill="#e8943c"/><rect x="418.5" y="658.86" width="12.55" height="6" fill="#b35a24"/><rect x="431" y="658.86" width="6.05" height="6" fill="#b35a24"/><rect x="437" y="658.86" width="6.05" height="6" fill="#e8943c"/><rect x="443" y="658.86" width="6.05" height="6" fill="#b35a24"/><rect x="449" y="658.86" width="6.85" height="6" fill="#cabbe8"/></g>
<g><line x1="320.5" y1="8" x2="320.5" y2="87" stroke="#2a16c8" stroke-width="1.6"/><text transform="translate(322.2 49.6) scale(0.92 1)" fill="#3c30d8" stroke="#3c30d8" stroke-width="0.12" font-size="6.1">CVB3</text><line x1="320.5" y1="95.78" x2="320.5" y2="166.8" stroke="#2a16c8" stroke-width="1.6"/><text transform="translate(322.2 133.39) scale(0.92 1)" fill="#3c30d8" stroke="#3c30d8" stroke-width="0.12" font-size="6.1">CVB5</text><line x1="320.5" y1="175.58" x2="320.5" y2="230.64" stroke="#2a16c8" stroke-width="1.6"/><text transform="translate(322.2 205.21) scale(0.92 1)" fill="#3c30d8" stroke="#3c30d8" stroke-width="0.12" font-size="6.1">CVB2</text><line x1="320.5" y1="239.42" x2="320.5" y2="270.54" stroke="#2a16c8" stroke-width="1.6"/><text transform="translate(322.2 257.08) scale(0.92 1)" fill="#3c30d8" stroke="#3c30d8" stroke-width="0.12" font-size="6.1">CVB4</text><line x1="320.5" y1="279.32" x2="320.5" y2="334.38" stroke="#2a16c8" stroke-width="1.6"/><text transform="translate(322.2 308.95) scale(0.92 1)" fill="#3c30d8" stroke="#3c30d8" stroke-width="0.12" font-size="6.1">E30</text><line x1="320.5" y1="343.16" x2="320.5" y2="390.24" stroke="#2a16c8" stroke-width="1.6"/><text transform="translate(322.2 368.8) scale(0.92 1)" fill="#3c30d8" stroke="#3c30d8" stroke-width="0.12" font-size="6.1">E1</text><line x1="320.5" y1="399.02" x2="320.5" y2="438.12" stroke="#2a16c8" stroke-width="1.6"/><text transform="translate(322.2 420.67) scale(0.92 1)" fill="#3c30d8" stroke="#3c30d8" stroke-width="0.12" font-size="6.1">E6</text><line x1="320.5" y1="446.9" x2="320.5" y2="478.02" stroke="#2a16c8" stroke-width="1.6"/><text transform="translate(322.2 464.56) scale(0.92 1)" fill="#3c30d8" stroke="#3c30d8" stroke-width="0.12" font-size="6.1">E16</text><line x1="320.5" y1="486.8" x2="320.5" y2="509.94" stroke="#2a16c8" stroke-width="1.6"/><text transform="translate(322.2 500.47) scale(0.92 1)" fill="#3c30d8" stroke="#3c30d8" stroke-width="0.12" font-size="6.1">E14</text><line x1="320.5" y1="518.72" x2="320.5" y2="549.84" stroke="#2a16c8" stroke-width="1.6"/><text transform="translate(322.2 536.38) scale(0.92 1)" fill="#3c30d8" stroke="#3c30d8" stroke-width="0.12" font-size="6.1">E3</text><line x1="320.5" y1="558.62" x2="320.5" y2="621.66" stroke="#2a16c8" stroke-width="1.6"/><text transform="translate(322.2 592.24) scale(0.92 1)" fill="#3c30d8" stroke="#3c30d8" stroke-width="0.12" font-size="6.1">E11</text><line x1="320.5" y1="630.44" x2="320.5" y2="661.56" stroke="#2a16c8" stroke-width="1.6"/><text transform="translate(322.2 648.1) scale(0.92 1)" fill="#3c30d8" stroke="#3c30d8" stroke-width="0.12" font-size="6.1">E7</text></g>
<g font-size="6.5" stroke-width="0.17"><text transform="translate(127.2 10.05) scale(0.894 1)" fill="#111111" stroke="#111111">KX187380_CVB3_GRE_2014</text><text transform="translate(127.2 18.03) scale(0.894 1)" fill="#111111" stroke="#111111">KX187381_CVB3_GRE_2014</text><text transform="translate(127.2 26.01) scale(0.894 1)" fill="#111111" stroke="#111111">MH544464_CVB3_GRE_2013</text><text transform="translate(127.2 33.99) scale(0.894 1)" fill="#ac7048" stroke="#ac7048">IAL_11_BRA_2016</text><text transform="translate(127.7 41.97) scale(0.894 1)" fill="#ac7048" stroke="#ac7048">IAL_49_BRA_2015</text><text transform="translate(128.3 49.95) scale(0.894 1)" fill="#ac7048" stroke="#ac7048">IAL_52_BRA_2019</text><text transform="translate(126.5 57.93) scale(0.894 1)" fill="#111111" stroke="#111111">MT491222_CVB3_BRA_2010</text><text transform="translate(126.5 65.91) scale(0.894 1)" fill="#111111" stroke="#111111">MT491224_CVB3_BRA_2010</text><text transform="translate(127.2 73.89) scale(0.894 1)" fill="#ac7048" stroke="#ac7048">IAL_51_BRA_2013</text><text transform="translate(127.2 81.87) scale(0.894 1)" fill="#111111" stroke="#111111">KY865920_CVB3_NLD_2013</text><text transform="translate(112.8 89.85) scale(0.894 1)" fill="#2c22d2" stroke="#2c22d2">JN048468_CVB3_strain_Nancy_USA_1949</text><text transform="translate(125.2 97.83) scale(0.894 1)" fill="#ac7048" stroke="#ac7048">IAL_121_BRA_2006</text><text transform="translate(125 105.81) scale(0.894 1)" fill="#ac7048" stroke="#ac7048">IAL_120_BRA_2003</text><text transform="translate(125.5 113.79) scale(0.894 1)" fill="#111111" stroke="#111111">HF948243_CVB5_CYP_2005</text><text transform="translate(126.9 121.77) scale(0.894 1)" fill="#111111" stroke="#111111">MH544447_CVB5_GRE_2013</text><text transform="translate(126.5 129.75) scale(0.894 1)" fill="#111111" stroke="#111111">GU903885_CVB5_MOR_2008</text><text transform="translate(127.2 137.73) scale(0.894 1)" fill="#ac7048" stroke="#ac7048">IAL_72_BRA_2012</text><text transform="translate(126.9 145.71) scale(0.894 1)" fill="#111111" stroke="#111111">KM111284_CVB5_BRA_2012</text><text transform="translate(127.9 153.69) scale(0.894 1)" fill="#111111" stroke="#111111">MN749145_CVB5_USA_2015</text><text transform="translate(127.9 161.67) scale(0.894 1)" fill="#ac7048" stroke="#ac7048">IAL_22_BRA_2016</text><text transform="translate(113.3 169.65) scale(0.894 1)" fill="#2c22d2" stroke="#2c22d2">AF114383_CVB5_strain_Faulkner_Kentucky_1952</text><text transform="translate(125.8 177.63) scale(0.894 1)" fill="#ac7048" stroke="#ac7048">IAL_82_BRA_2009</text><text transform="translate(125.7 185.61) scale(0.894 1)" fill="#ac7048" stroke="#ac7048">IAL_15_BRA_2004</text><text transform="translate(125.7 193.59) scale(0.894 1)" fill="#111111" stroke="#111111">FJ868285_CVB2_AUS_2005</text><text transform="translate(127.1 201.57) scale(0.894 1)" fill="#111111" stroke="#111111">KX187377_CVB2_GRE_2013</text><text transform="translate(125.4 209.55) scale(0.894 1)" fill="#111111" stroke="#111111">AM159196_CVB2_FRA_2005</text><text transform="translate(125 217.53) scale(0.894 1)" fill="#111111" stroke="#111111">AM492491_CVB2_FRA_2000</text><text transform="translate(125.7 225.51) scale(0.894 1)" fill="#111111" stroke="#111111">DQ869817_CVB2_FRA_2005</text><text transform="translate(111.8 233.49) scale(0.894 1)" fill="#2c22d2" stroke="#2c22d2">AF081485_CVB2_strain_Ohio_1947</text><text transform="translate(127.4 241.47) scale(0.894 1)" fill="#111111" stroke="#111111">KY433745_CVB4_GUI_2013</text><text transform="translate(127.8 249.45) scale(0.894 1)" fill="#111111" stroke="#111111">MN418896_CVB4_BRA_2017</text><text transform="translate(127.8 257.43) scale(0.894 1)" fill="#111111" stroke="#111111">KY861149_CVB4_ZAF_2016</text><text transform="translate(128.3 265.41) scale(0.894 1)" fill="#ac7048" stroke="#ac7048">IAL_70_BRA_2016</text><text transform="translate(113 273.39) scale(0.894 1)" fill="#2c22d2" stroke="#2c22d2">X05690_CVB4_strain_Benschoten_New_York_1951</text><text transform="translate(125 281.37) scale(0.894 1)" fill="#111111" stroke="#111111">HQ152909_E30_BRA_2005</text><text transform="translate(125 289.35) scale(0.894 1)" fill="#111111" stroke="#111111">HQ152912_E30_BRA_2005</text><text transform="translate(125.7 297.33) scale(0.894 1)" fill="#111111" stroke="#111111">EU678967_E30_BRA_2005</text><text transform="translate(123.6 305.31) scale(0.894 1)" fill="#111111" stroke="#111111">AJ430700_E30_FRA_1996</text><text transform="translate(124 313.29) scale(0.894 1)" fill="#111111" stroke="#111111">MK410128_E30_ARG_2001</text><text transform="translate(128.3 321.27) scale(0.894 1)" fill="#ac7048" stroke="#ac7048">IAL_68_BRA_2016</text><text transform="translate(127.8 329.25) scale(0.894 1)" fill="#111111" stroke="#111111">MK570363_E30_BRA_2016</text><text transform="translate(113.7 337.23) scale(0.894 1)" fill="#2c22d2" stroke="#2c22d2">AF081342_E30_strain_Giles_1955</text><text transform="translate(128.5 345.21) scale(0.894 1)" fill="#ac7048" stroke="#ac7048">IAL_41_BRA_2021</text><text transform="translate(127.4 353.19) scale(0.894 1)" fill="#111111" stroke="#111111">MW775345_E1_BRA_2014</text><text transform="translate(125.7 361.17) scale(0.894 1)" fill="#ac7048" stroke="#ac7048">IAL_99_BRA_2004</text><text transform="translate(127.4 369.15) scale(0.894 1)" fill="#111111" stroke="#111111">KY433701_E1_SEN_2014</text><text transform="translate(128.3 377.13) scale(0.894 1)" fill="#ac7048" stroke="#ac7048">IAL_37_BRA_2016</text><text transform="translate(126.4 385.11) scale(0.894 1)" fill="#111111" stroke="#111111">N203657_E1_IND_2009</text><text transform="translate(113 393.09) scale(0.894 1)" fill="#2c22d2" stroke="#2c22d2">AF029859_E1_strain_Farouk_Egypt_1951</text><text transform="translate(126.4 401.07) scale(0.894 1)" fill="#ac7048" stroke="#ac7048">IAL_79_BRA_2009</text><text transform="translate(126.4 409.05) scale(0.894 1)" fill="#111111" stroke="#111111">MT212621_E6_BRA_2010</text><text transform="translate(126.4 417.03) scale(0.894 1)" fill="#111111" stroke="#111111">MH809541_E6_NLD_2008</text><text transform="translate(128.5 425.01) scale(0.894 1)" fill="#ac7048" stroke="#ac7048">IAL_04_BRA_2019</text><text transform="translate(128.3 432.99) scale(0.894 1)" fill="#111111" stroke="#111111">MT212627_E6_BRA_2016</text><text transform="translate(113.7 440.97) scale(0.894 1)" fill="#2c22d2" stroke="#2c22d2">AY302558_E6_strain_D_Amori_Rhode_Island_1955</text><text transform="translate(126.8 448.95) scale(0.894 1)" fill="#111111" stroke="#111111">AB598068_E16_CHN_2010</text><text transform="translate(127.4 456.93) scale(0.894 1)" fill="#111111" stroke="#111111">MK086164_E16_FRA_2014</text><text transform="translate(127.8 464.91) scale(0.894 1)" fill="#111111" stroke="#111111">MT641428_E16_UK_2018</text><text transform="translate(128.3 472.89) scale(0.894 1)" fill="#ac7048" stroke="#ac7048">IAL_48_BRA_2016</text><text transform="translate(113 480.87) scale(0.894 1)" fill="#2c22d2" stroke="#2c22d2">AY302542_E16_strain_Harrington_Massachusetts_1951</text><text transform="translate(125.7 488.85) scale(0.894 1)" fill="#ac7048" stroke="#ac7048">IAL_14_BRA_2003</text><text transform="translate(126.4 496.83) scale(0.894 1)" fill="#111111" stroke="#111111">MT491220_E14_BRA_2011</text><text transform="translate(113.7 504.81) scale(0.894 1)" fill="#2c22d2" stroke="#2c22d2">AY302540_E14_strain_Tow_Rhode_Island_1954</text><text transform="translate(123.6 512.79) scale(0.894 1)" fill="#111111" stroke="#111111">AB268216_E14_CHN_1997</text><text transform="translate(125 520.77) scale(0.894 1)" fill="#111111" stroke="#111111">FJ766334_E3_GRE_2005</text><text transform="translate(125 528.75) scale(0.894 1)" fill="#111111" stroke="#111111">AM492475_E3_FRA_2005</text><text transform="translate(125.9 536.73) scale(0.894 1)" fill="#ac7048" stroke="#ac7048">IAL_100_BRA_2008</text><text transform="translate(126.4 544.71) scale(0.894 1)" fill="#111111" stroke="#111111">MT491216_E3_BRA_2010</text><text transform="translate(113 552.69) scale(0.894 1)" fill="#2c22d2" stroke="#2c22d2">AY302553_E3_strain_Morrisey_USA_1951</text><text transform="translate(126.4 560.67) scale(0.894 1)" fill="#111111" stroke="#111111">KC893514_E11_NLD_2010</text><text transform="translate(126.4 568.65) scale(0.894 1)" fill="#111111" stroke="#111111">KJ830689_E11_NLD_2010</text><text transform="translate(125.7 576.63) scale(0.894 1)" fill="#ac7048" stroke="#ac7048">IAL_14_BRA_2009</text><text transform="translate(125.7 584.61) scale(0.894 1)" fill="#ac7048" stroke="#ac7048">IAL_32_BRA_2008</text><text transform="translate(126.8 592.59) scale(0.894 1)" fill="#111111" stroke="#111111">HG793711_E11_FRA_2012</text><text transform="translate(127.8 600.57) scale(0.894 1)" fill="#111111" stroke="#111111">MH752989_E11_USA_2016</text><text transform="translate(113.7 608.55) scale(0.894 1)" fill="#2c22d2" stroke="#2c22d2">AF081326_E11_strain_Silva_USA_1955</text><text transform="translate(113 616.53) scale(0.894 1)" fill="#111111" stroke="#111111">X80059_E11_Gregory_USA_1955</text><text transform="translate(127.4 624.51) scale(0.894 1)" fill="#111111" stroke="#111111">MW775346_E11_BRA_2013</text><text transform="translate(124.8 632.49) scale(0.894 1)" fill="#111111" stroke="#111111">JN996505_E7_FIN_2001_2007</text><text transform="translate(125.8 640.47) scale(0.894 1)" fill="#111111" stroke="#111111">JN996506_E7_FIN_2001_2007</text><text transform="translate(123.9 648.45) scale(0.894 1)" fill="#111111" stroke="#111111">AM492472_E7_FRA_1999</text><text transform="translate(126.7 656.43) scale(0.894 1)" fill="#ac7048" stroke="#ac7048">IAL_22_BRA_2014</text><text transform="translate(113.4 664.41) scale(0.894 1)" fill="#2c22d2" stroke="#2c22d2">AF465516_E7_strain_Wallace_Ohio_USA_1955</text></g>
<g><text x="495.5" y="234.6" font-size="10.9" fill="#111" stroke="#111" stroke-width="0.12">seq</text><rect x="496" y="241" width="16" height="17.2" fill="#a6cbe3"/><text x="518.5" y="253.8" font-size="8.8" fill="#222" stroke="#222" stroke-width="0.15">a</text><rect x="496" y="259.5" width="16" height="17.2" fill="#ec8e3e"/><text x="518.5" y="272.3" font-size="8.8" fill="#222" stroke="#222" stroke-width="0.15">c</text><rect x="496" y="278" width="16" height="17.2" fill="#b49674"/><text x="518.5" y="290.8" font-size="8.8" fill="#222" stroke="#222" stroke-width="0.15">g</text><rect x="496" y="296.5" width="16" height="17.2" fill="#b4582a"/><text x="518.5" y="309.3" font-size="8.8" fill="#222" stroke="#222" stroke-width="0.15">t</text><text x="495.3" y="347.3" font-size="10.9" fill="#111" stroke="#111" stroke-width="0.12">rate</text><defs><linearGradient id="rg" x1="0" y1="1" x2="0" y2="0"><stop offset="0" stop-color="#2c10f8"/><stop offset="0.12" stop-color="#5a18f0"/><stop offset="0.28" stop-color="#9c28dc"/><stop offset="0.55" stop-color="#de4294"/><stop offset="0.83" stop-color="#f2684a"/><stop offset="1" stop-color="#f28030"/></linearGradient></defs><rect x="495.5" y="353" width="17.3" height="91" fill="url(#rg)"/><line x1="495.5" y1="368.5" x2="499" y2="368.5" stroke="#fff" stroke-width="0.6"/><line x1="509.3" y1="368.5" x2="512.8" y2="368.5" stroke="#fff" stroke-width="0.6"/><text x="518.5" y="371.7" font-size="8.8" fill="#222" stroke="#222" stroke-width="0.15">0.0011</text><line x1="495.5" y1="393.5" x2="499" y2="393.5" stroke="#fff" stroke-width="0.6"/><line x1="509.3" y1="393.5" x2="512.8" y2="393.5" stroke="#fff" stroke-width="0.6"/><text x="518.5" y="396.7" font-size="8.8" fill="#222" stroke="#222" stroke-width="0.15">0.0010</text><line x1="495.5" y1="418.6" x2="499" y2="418.6" stroke="#fff" stroke-width="0.6"/><line x1="509.3" y1="418.6" x2="512.8" y2="418.6" stroke="#fff" stroke-width="0.6"/><text x="518.5" y="421.8" font-size="8.8" fill="#222" stroke="#222" stroke-width="0.15">0.0009</text></g>
</svg>
</body></html>
